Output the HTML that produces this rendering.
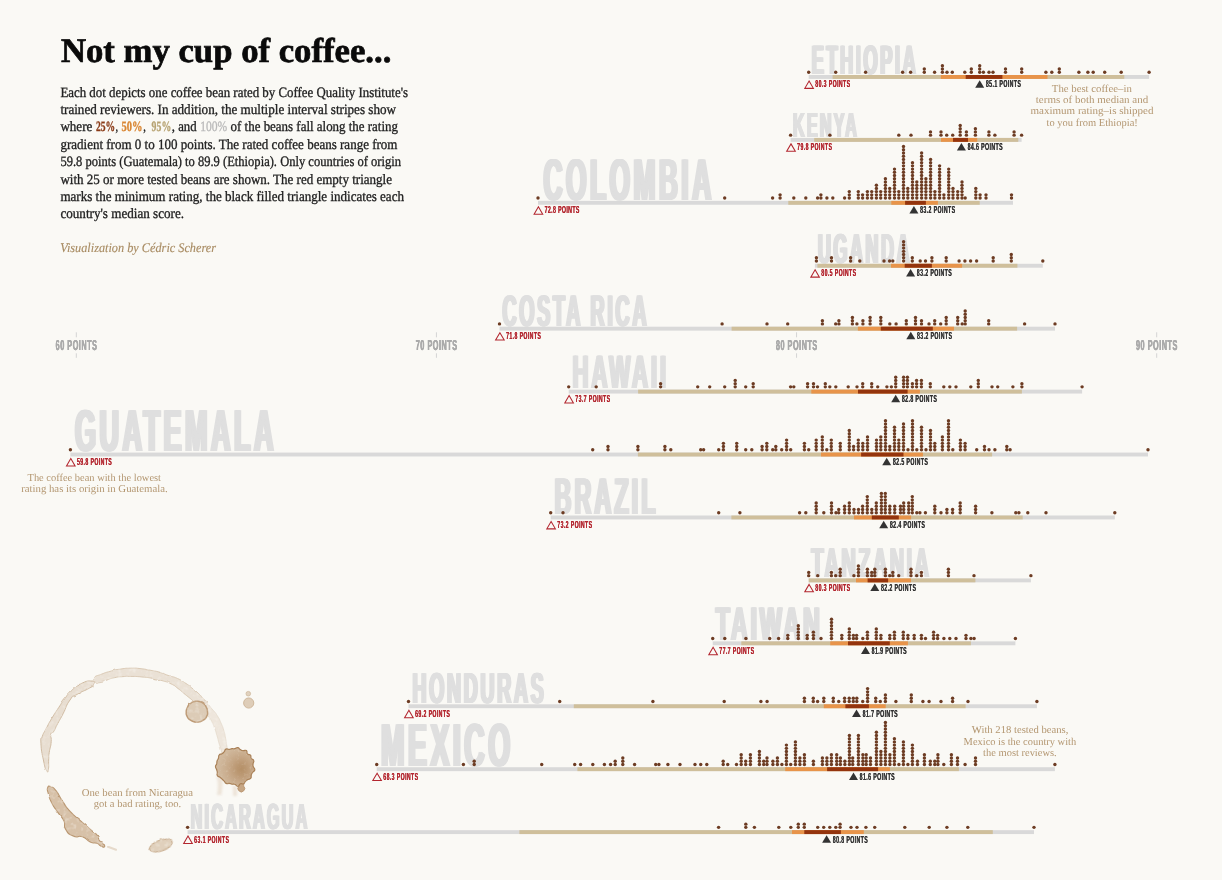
<!DOCTYPE html>
<html lang="en"><head><meta charset="utf-8"><title>Not my cup of coffee...</title>
<style>
html,body{margin:0;padding:0;background:#faf9f5;}
body{width:1222px;height:880px;overflow:hidden;font-family:"Liberation Sans",sans-serif;}
svg{display:block;text-rendering:geometricPrecision;}
.sans{font-family:"Liberation Sans",sans-serif;font-weight:bold;}
.serif{font-family:"Liberation Serif",serif;}
</style></head><body>
<svg width="1222" height="880" viewBox="0 0 1222 880">
<rect x="0" y="0" width="1222" height="880" fill="#faf9f5"/>
<g opacity="0.999">
<defs>
<filter id="blur1" x="-20%" y="-20%" width="140%" height="140%"><feGaussianBlur stdDeviation="0.45"/></filter>
<filter id="blur2" x="-50%" y="-20%" width="200%" height="140%"><feGaussianBlur stdDeviation="1.3"/></filter>
<filter id="blur3" x="-40%" y="-40%" width="180%" height="180%"><feGaussianBlur stdDeviation="3.2"/></filter>
<filter id="rough" x="-20%" y="-20%" width="140%" height="140%"><feTurbulence type="fractalNoise" baseFrequency="0.12" numOctaves="2" seed="7" result="n"/><feDisplacementMap in="SourceGraphic" in2="n" scale="2.4" xChannelSelector="R" yChannelSelector="G" result="d"/><feGaussianBlur in="d" stdDeviation="0.5" result="b"/><feTurbulence type="fractalNoise" baseFrequency="0.22" numOctaves="2" seed="11" result="n2"/><feColorMatrix in="n2" type="matrix" values="0 0 0 0 0  0 0 0 0 0  0 0 0 0 0  1.0 0 0 0 0.5" result="a"/><feComposite in="b" in2="a" operator="in"/></filter>
<filter id="mott" x="-20%" y="-20%" width="140%" height="140%"><feGaussianBlur in="SourceGraphic" stdDeviation="0.5" result="b"/><feTurbulence type="fractalNoise" baseFrequency="0.3" numOctaves="2" seed="4" result="n2"/><feColorMatrix in="n2" type="matrix" values="0 0 0 0 0  0 0 0 0 0  0 0 0 0 0  0.7 0 0 0 0.72" result="a"/><feComposite in="b" in2="a" operator="in"/></filter>
<radialGradient id="blot" cx="66%" cy="55%" r="70%"><stop offset="0" stop-color="#b9966e"/><stop offset="0.4" stop-color="#c5a685"/><stop offset="0.8" stop-color="#d0b89c"/><stop offset="1" stop-color="#d3bca2"/></radialGradient>
</defs>
<g id="stain">
<path d="M46.6 770.5C45 767.8 45.5 770.1 43.6 761C41.7 751.9 41.3 751.4 40.9 743.2C40.5 735 40.5 741.4 42.3 736.4C44.1 731.4 43.2 734.3 46.4 728.2C49.6 722.1 47.9 724.8 52 718C56.1 711.2 54.4 714 58.6 707.7C62.8 701.4 60.4 704.4 64.5 699C68.6 693.6 65.6 696.4 70.9 691.4C76.2 686.4 73.4 687.3 80.5 683.9C87.6 680.5 87.9 680.7 92.1 681.1C96.3 681.5 94.1 682.8 93.2 685.2C92.3 687.6 94.8 685.1 89.3 688.2C83.9 691.3 83.3 690.6 76.9 694.5C70.4 698.4 74.6 693.5 70 700C65.3 706.5 67.1 706.1 63 713.9C59 721.7 61 717.4 57.8 723.4C54.6 729.4 55.8 728.3 53.4 731.9C51 735.4 51.3 730.7 50.6 734C49.8 737.2 51.7 735.4 51.2 741.6C50.8 747.8 50.1 746.5 49.2 752.7C48.4 758.8 49 754.5 48.7 760C48.4 765.5 49.1 765.6 48.4 769.1C47.7 772.6 48.2 773.2 46.6 770.5Z" fill="#e8ded1" stroke="#cfbaa1" stroke-width="1.0" stroke-linejoin="round" opacity="1.0" filter="url(#rough)"/>
<path d="M94.1 677.7C96.5 675.1 96.1 676.3 102 674C107.9 671.7 105.6 672.6 111.9 670.9C118.2 669.2 114.6 669.9 121 669C127.4 668.1 124.3 668.3 131 668.2C137.7 668.1 134.7 668 141 668.7C147.3 669.4 143.7 669 150 670.2C156.3 671.4 154 670.6 160 672.3C166 674 162.2 673.3 168 675.4C173.8 677.5 171.5 675.8 177.5 678.5C183.5 681.2 181.2 680.4 186 683.5C190.8 686.6 187.8 684.7 191.8 687.9C195.8 691.1 194.3 689.5 198 693C201.7 696.5 200.3 695.2 203 698.5C205.7 701.8 207.9 700.8 206.2 703C204.5 705.2 202.8 706.1 198 705C193.2 703.9 196.5 703.7 191.8 699.8C187.1 695.9 188.5 697.2 183.9 693.4C179.3 689.6 182.3 691.7 178 688.5C173.7 685.3 176.4 686.5 171.1 683.9C165.8 681.3 168.1 682.4 162 680.6C155.9 678.8 159.5 679.6 152.8 678.4C146.1 677.2 149.3 677.7 142 677C134.7 676.3 137.3 676.5 131 676.4C124.7 676.3 128.5 676.2 123 676.6C117.5 677 119.9 676.6 114.6 677.7C109.3 678.8 111.6 678.4 107 680C102.4 681.6 105 681.9 100.9 682.5C96.8 683.1 97.1 683.4 94.8 681.8C92.5 680.2 91.7 680.3 94.1 677.7Z" fill="#eae1d5" stroke="#d6c4ae" stroke-width="0.9" stroke-linejoin="round" opacity="1.0" filter="url(#rough)"/>
<path d="M205.5 702.5C206.9 700.8 208.1 704.6 212 709C215.9 713.4 214.3 711 217.3 715.7C220.3 720.4 218.9 718.2 221 723C223.1 727.8 222.2 725 223.7 730C225.2 735 224.5 732.7 225.5 738C226.5 743.3 226.1 741.2 226.8 745.9C227.5 750.6 229.1 749.3 227.5 752C225.9 754.7 224.1 754.4 222 754C219.9 753.6 222.3 754.4 221.3 750.7C220.3 747 220.4 748 218.9 742.8C217.4 737.6 218.4 740.3 216.8 735C215.2 729.7 216 731.8 214.1 726.8C212.2 721.8 213.1 724.2 211 720C208.9 715.8 209.5 719.9 207.7 714.1C205.9 708.3 204.1 704.2 205.5 702.5Z" fill="#eee6dc" stroke="#e1d5c6" stroke-width="0.7" stroke-linejoin="round" opacity="1.0" filter="url(#rough)"/>
<path d="M207.5 711.7C207.7 714.8 208 713.6 206.7 716.4C205.4 719.1 206.1 718.1 203.6 719.9C201.1 721.7 202.2 721.1 199.2 721.8C196.2 722.4 197.6 722.4 194.6 721.8C191.6 721.1 192.7 721.7 190.2 719.9C187.7 718.1 188.4 719.1 187.1 716.4C185.8 713.6 186.1 714.8 186.3 711.7C186.5 708.6 186.3 709.8 187.6 707C189 704.3 188.1 705.3 190.4 703.5C192.7 701.7 191.5 702.3 194.5 701.6C197.5 701 196.3 701 199.3 701.6C202.3 702.3 201.1 701.7 203.4 703.5C205.7 705.3 204.8 704.3 206.2 707C207.5 709.8 207.3 708.6 207.5 711.7Z" fill="#dccbb6" stroke="#be9c78" stroke-width="1.5" stroke-linejoin="round" opacity="1.0" filter="url(#rough)"/>
<circle cx="248.7" cy="703" r="5.1" fill="#decdb8" stroke="#c8ad8e" stroke-width="0.8" filter="url(#blur1)"/>
<circle cx="248.3" cy="693.7" r="2.3" fill="#e1d2bf" stroke="#ccb497" stroke-width="0.7" filter="url(#blur1)"/>
<path d="M216.5 776 Q219 785 217 795 L221.5 795 Q223 785 222.5 777Z" fill="#eadfd2" opacity="0.8" filter="url(#blur2)"/>
<path d="M232.5 786 Q233.5 791 233 796 L237 796 Q237.5 791 237 786Z" fill="#eadfd2" opacity="0.8" filter="url(#blur2)"/>
<path d="M238.2 782 L239 786 A3.4 3.4 0 1 0 243.6 786 L244.4 781Z" fill="#c6a684" stroke="#b48d64" stroke-width="0.7" filter="url(#blur1)"/>
<path d="M253.3 766.6C253.9 768.6 255 767.8 254.8 769.8C254.5 771.7 253.8 770.6 252.6 772.4C251.4 774.1 251.9 773.1 251.3 775C250.7 777 251.9 776.7 250.8 778.2C249.6 779.8 249.6 778.6 247.8 779.6C246.1 780.7 246.9 779.9 245.5 781.3C244.1 782.7 245.2 782.9 243.6 783.8C241.9 784.6 242.3 783 240.4 783.8C238.5 784.7 239.8 786.1 237.9 786.3C236 786.4 236.8 785 234.8 784.3C232.8 783.6 233.8 784.5 232 784.2C230.2 783.8 231.3 783.7 229.3 783.4C227.4 783.2 227.9 784.2 226.2 783.4C224.5 782.7 225.6 782.6 224.2 781.2C222.9 779.7 223.6 780.5 222.2 779.2C220.8 777.9 221.6 778.6 220 777.3C218.4 776.1 218.2 777.2 217.3 775.5C216.4 773.8 217.6 774.3 217.3 772.3C217.1 770.3 217.2 771.4 216.6 769.5C216 767.6 215.5 768.5 215.5 766.6C215.5 764.7 216.1 765.6 216.7 763.7C217.2 761.8 216.5 762.7 217.1 760.9C217.7 759 217.8 760.2 218.4 758.3C219.1 756.4 217.9 756.7 219.1 755.2C220.2 753.6 220.2 754.7 221.9 753.7C223.6 752.6 222.8 753.5 224.1 751.9C225.5 750.4 224.2 750 225.9 749.1C227.6 748.3 227.2 749.6 229.2 749.4C231.2 749.3 230.1 749 232 748.7C233.8 748.5 232.9 749.1 234.8 748.7C236.7 748.3 236 747.4 237.8 747.7C239.6 748 238.6 748.6 240.3 749.6C242 750.6 240.9 750.3 242.9 750.6C245 751 244.9 749.5 246.4 750.6C247.9 751.7 246.1 752.4 247.5 753.9C248.8 755.4 249.2 753.8 250.5 755.2C251.7 756.6 250.1 756.5 251.2 758.2C252.3 760 253.1 758.6 253.7 760.4C254.4 762.3 253.2 761.7 253.1 763.7C252.9 765.8 252.7 764.6 253.3 766.6Z" fill="url(#blot)" stroke="#a98056" stroke-width="1.2" stroke-linejoin="round" filter="url(#mott)"/>
<ellipse cx="241" cy="769" rx="7" ry="10" fill="#a87d52" opacity="0.22" filter="url(#blur3)"/>
<path d="M47.7 787.7C46.8 790 47 788.6 48.3 793.6C49.6 798.6 48.5 796.6 51.6 802.7C54.7 808.8 53.4 805.8 57.5 811.9C61.6 818 61.4 815.4 64 821.1C66.6 826.8 62.3 823.9 65.4 828.9C68.5 833.9 67.5 833.5 73.2 836.1C78.9 838.7 76.7 834.8 82.4 836.8C88.1 838.8 85.4 839.8 90.2 842C95 844.2 93.3 842 96.8 843.3C100.3 844.6 98.1 844.7 100.7 845.9C103.3 847.1 103.9 848 104.6 846.8C105.3 845.6 104.4 844.3 102.7 842.3C101 840.3 101.2 843 99.4 840.7C97.6 838.4 99.6 838.6 97.4 835.5C95.2 832.4 97.8 835.9 92.8 831.5C87.8 827.1 89.8 828.9 82.4 822.4C75 815.9 77.2 818.9 70.6 811.9C64 804.9 67.5 808.4 62.7 801.4C57.9 794.4 60.1 795.8 56.2 790.9C52.3 786 53.7 787.9 50.9 786.8C48.1 785.7 48.6 785.4 47.7 787.7Z" fill="#d7c1a8" stroke="#b99670" stroke-width="1.1" stroke-linejoin="round" opacity="1.0" filter="url(#rough)"/>
<path d="M108 846.8 L116 849.8" stroke="#e6dacb" stroke-width="2" stroke-linecap="round" filter="url(#blur1)"/>
<g transform="translate(160.9,845.6) rotate(-19)"><ellipse cx="0" cy="0" rx="12" ry="5.4" fill="#e0d0bc" stroke="#c4a786" stroke-width="1.0" filter="url(#rough)"/></g>
</g>
<line x1="76.3" x2="76.3" y1="332.3" y2="337.3" stroke="#d4d4d4" stroke-width="1"/>
<line x1="76.3" x2="76.3" y1="353.3" y2="357.8" stroke="#d4d4d4" stroke-width="1"/>
<g class="sans" font-size="14.39" fill="#ababab" letter-spacing="1.061" transform="translate(55.62,350.4) scale(0.5041,1)"><text x="-0.43" y="0">60 POINTS</text><text x="0" y="0">60 POINTS</text><text x="0.43" y="0">60 POINTS</text></g>
<line x1="436.43" x2="436.43" y1="332.3" y2="337.3" stroke="#d4d4d4" stroke-width="1"/>
<line x1="436.43" x2="436.43" y1="353.3" y2="357.8" stroke="#d4d4d4" stroke-width="1"/>
<g class="sans" font-size="14.39" fill="#ababab" letter-spacing="1.061" transform="translate(415.75,350.4) scale(0.5041,1)"><text x="-0.43" y="0">70 POINTS</text><text x="0" y="0">70 POINTS</text><text x="0.43" y="0">70 POINTS</text></g>
<line x1="796.56" x2="796.56" y1="332.3" y2="337.3" stroke="#d4d4d4" stroke-width="1"/>
<line x1="796.56" x2="796.56" y1="353.3" y2="357.8" stroke="#d4d4d4" stroke-width="1"/>
<g class="sans" font-size="14.39" fill="#ababab" letter-spacing="1.061" transform="translate(775.88,350.4) scale(0.5041,1)"><text x="-0.43" y="0">80 POINTS</text><text x="0" y="0">80 POINTS</text><text x="0.43" y="0">80 POINTS</text></g>
<line x1="1156.69" x2="1156.69" y1="332.3" y2="337.3" stroke="#d4d4d4" stroke-width="1"/>
<line x1="1156.69" x2="1156.69" y1="353.3" y2="357.8" stroke="#d4d4d4" stroke-width="1"/>
<g class="sans" font-size="14.39" fill="#ababab" letter-spacing="1.061" transform="translate(1136.01,350.4) scale(0.5041,1)"><text x="-0.43" y="0">90 POINTS</text><text x="0" y="0">90 POINTS</text><text x="0.43" y="0">90 POINTS</text></g>
<g>
<g class="sans" font-size="41.13" fill="#dfdfdf" letter-spacing="5.430" transform="translate(811.65,73.8) scale(0.4482,1)"><text x="-2.34" y="0">ETHIOPIA</text><text x="-1.17" y="0">ETHIOPIA</text><text x="0" y="0">ETHIOPIA</text><text x="1.17" y="0">ETHIOPIA</text><text x="2.34" y="0">ETHIOPIA</text></g>
<rect x="808.7" y="75" width="340.4" height="3.9" fill="#d9d9d9"/>
<rect x="832.6" y="75" width="291.7" height="3.9" fill="#cfbf9b"/>
<rect x="940.8" y="75" width="106.7" height="3.9" fill="#e8944a"/>
<rect x="965.7" y="75" width="36.7" height="3.9" fill="#94340d"/>
<g fill="#6d3c23"><circle cx="808.7" cy="72.2" r="1.7"/><circle cx="835.7" cy="72.2" r="1.7"/><circle cx="865.6" cy="72.2" r="1.7"/><circle cx="902.6" cy="72.2" r="1.7"/><circle cx="910.6" cy="72.2" r="1.7"/><circle cx="924.3" cy="72.2" r="1.7"/><circle cx="924.3" cy="68.98" r="1.7"/><circle cx="934.6" cy="72.2" r="1.7"/><circle cx="942.4" cy="72.2" r="1.7"/><circle cx="942.4" cy="68.98" r="1.7"/><circle cx="942.4" cy="65.76" r="1.7"/><circle cx="947" cy="72.2" r="1.7"/><circle cx="952.3" cy="72.2" r="1.7"/><circle cx="964.8" cy="72.2" r="1.7"/><circle cx="971.3" cy="72.2" r="1.7"/><circle cx="971.3" cy="68.98" r="1.7"/><circle cx="979.7" cy="72.2" r="1.7"/><circle cx="979.7" cy="68.98" r="1.7"/><circle cx="979.7" cy="65.76" r="1.7"/><circle cx="983.4" cy="72.2" r="1.7"/><circle cx="989" cy="72.2" r="1.7"/><circle cx="993" cy="72.2" r="1.7"/><circle cx="1005.5" cy="72.2" r="1.7"/><circle cx="1005.5" cy="68.98" r="1.7"/><circle cx="1021.7" cy="72.2" r="1.7"/><circle cx="1021.7" cy="68.98" r="1.7"/><circle cx="1045.9" cy="72.2" r="1.7"/><circle cx="1051.8" cy="72.2" r="1.7"/><circle cx="1059.3" cy="72.2" r="1.7"/><circle cx="1059.3" cy="68.98" r="1.7"/><circle cx="1078.9" cy="72.2" r="1.7"/><circle cx="1087.9" cy="72.2" r="1.7"/><circle cx="1093.2" cy="72.2" r="1.7"/><circle cx="1104.7" cy="72.2" r="1.7"/><circle cx="1121.2" cy="72.2" r="1.7"/><circle cx="1149.1" cy="72.2" r="1.7"/></g>
<path d="M809.1 80.95 L813.4 88.35 L804.8 88.35 Z" fill="none" stroke="#b3262f" stroke-width="1.05" stroke-linejoin="miter"/>
<g class="sans" font-size="10.17" fill="#b3262f" letter-spacing="0.737" transform="translate(815.28,87.45) scale(0.5132,1)"><text x="-0.16" y="0">80.3 POINTS</text><text x="0.16" y="0">80.3 POINTS</text></g>
<path d="M979.7 80.15 L984.2 87.65 L975.2 87.65 Z" fill="#333333"/>
<g class="sans" font-size="10.17" fill="#333333" letter-spacing="0.732" transform="translate(985.88,87.45) scale(0.5165,1)"><text x="-0.16" y="0">85.1 POINTS</text><text x="0.16" y="0">85.1 POINTS</text></g>
</g>
<g>
<g class="sans" font-size="34.74" fill="#dfdfdf" letter-spacing="4.377" transform="translate(792.98,136.73) scale(0.4696,1)"><text x="-1.88" y="0">KENYA</text><text x="-0.94" y="0">KENYA</text><text x="0" y="0">KENYA</text><text x="0.94" y="0">KENYA</text><text x="1.88" y="0">KENYA</text></g>
<rect x="790.6" y="137.93" width="231" height="3.9" fill="#d9d9d9"/>
<rect x="814.2" y="137.93" width="204.1" height="3.9" fill="#cfbf9b"/>
<rect x="941" y="137.93" width="36.2" height="3.9" fill="#e8944a"/>
<rect x="953" y="137.93" width="15" height="3.9" fill="#94340d"/>
<g fill="#6d3c23"><circle cx="790.6" cy="135.13" r="1.7"/><circle cx="829.9" cy="135.13" r="1.7"/><circle cx="898.8" cy="135.13" r="1.7"/><circle cx="911" cy="135.13" r="1.7"/><circle cx="930.5" cy="135.13" r="1.7"/><circle cx="930.5" cy="131.91" r="1.7"/><circle cx="941" cy="135.13" r="1.7"/><circle cx="941" cy="131.91" r="1.7"/><circle cx="946.7" cy="135.13" r="1.7"/><circle cx="952.7" cy="135.13" r="1.7"/><circle cx="960.2" cy="135.13" r="1.7"/><circle cx="960.2" cy="131.91" r="1.7"/><circle cx="960.2" cy="128.69" r="1.7"/><circle cx="960.2" cy="125.47" r="1.7"/><circle cx="966.4" cy="135.13" r="1.7"/><circle cx="966.4" cy="131.91" r="1.7"/><circle cx="975.4" cy="135.13" r="1.7"/><circle cx="975.4" cy="131.91" r="1.7"/><circle cx="975.4" cy="128.69" r="1.7"/><circle cx="988.9" cy="135.13" r="1.7"/><circle cx="988.9" cy="131.91" r="1.7"/><circle cx="994.9" cy="135.13" r="1.7"/><circle cx="1014.1" cy="135.13" r="1.7"/><circle cx="1014.1" cy="131.91" r="1.7"/><circle cx="1021.6" cy="135.13" r="1.7"/></g>
<path d="M791 143.88 L795.3 151.28 L786.7 151.28 Z" fill="none" stroke="#b3262f" stroke-width="1.05" stroke-linejoin="miter"/>
<g class="sans" font-size="10.17" fill="#b3262f" letter-spacing="0.737" transform="translate(797.18,150.38) scale(0.5132,1)"><text x="-0.16" y="0">79.8 POINTS</text><text x="0.16" y="0">79.8 POINTS</text></g>
<path d="M961.4 143.08 L965.9 150.58 L956.9 150.58 Z" fill="#333333"/>
<g class="sans" font-size="10.17" fill="#333333" letter-spacing="0.732" transform="translate(967.58,150.38) scale(0.5165,1)"><text x="-0.16" y="0">84.6 POINTS</text><text x="0.16" y="0">84.6 POINTS</text></g>
</g>
<g>
<g class="sans" font-size="58.87" fill="#dfdfdf" letter-spacing="7.788" transform="translate(543.5,199.66) scale(0.4472,1)"><text x="-3.35" y="0">COLOMBIA</text><text x="-1.68" y="0">COLOMBIA</text><text x="0" y="0">COLOMBIA</text><text x="1.68" y="0">COLOMBIA</text><text x="3.35" y="0">COLOMBIA</text></g>
<rect x="538" y="200.86" width="475" height="3.9" fill="#d9d9d9"/>
<rect x="788.3" y="200.86" width="191.4" height="3.9" fill="#cfbf9b"/>
<rect x="891.3" y="200.86" width="46.6" height="3.9" fill="#e8944a"/>
<rect x="905.1" y="200.86" width="20.8" height="3.9" fill="#94340d"/>
<g fill="#6d3c23"><circle cx="538" cy="198.06" r="1.7"/><circle cx="724.7" cy="198.06" r="1.7"/><circle cx="772.6" cy="198.06" r="1.7"/><circle cx="780.1" cy="198.06" r="1.7"/><circle cx="780.1" cy="194.84" r="1.7"/><circle cx="793.8" cy="198.06" r="1.7"/><circle cx="805.8" cy="198.06" r="1.7"/><circle cx="817.6" cy="198.06" r="1.7"/><circle cx="820.9" cy="198.06" r="1.7"/><circle cx="820.9" cy="194.84" r="1.7"/><circle cx="826.9" cy="198.06" r="1.7"/><circle cx="832.8" cy="198.06" r="1.7"/><circle cx="844.6" cy="198.06" r="1.7"/><circle cx="849.3" cy="198.06" r="1.7"/><circle cx="849.3" cy="194.84" r="1.7"/><circle cx="849.3" cy="191.62" r="1.7"/><circle cx="858.3" cy="198.06" r="1.7"/><circle cx="858.3" cy="194.84" r="1.7"/><circle cx="858.3" cy="191.62" r="1.7"/><circle cx="862.6" cy="198.06" r="1.7"/><circle cx="862.6" cy="194.84" r="1.7"/><circle cx="867.4" cy="198.06" r="1.7"/><circle cx="867.4" cy="194.84" r="1.7"/><circle cx="867.4" cy="191.62" r="1.7"/><circle cx="871.7" cy="198.06" r="1.7"/><circle cx="871.7" cy="194.84" r="1.7"/><circle cx="871.7" cy="191.62" r="1.7"/><circle cx="876.4" cy="198.06" r="1.7"/><circle cx="876.4" cy="194.84" r="1.7"/><circle cx="876.4" cy="191.62" r="1.7"/><circle cx="876.4" cy="188.4" r="1.7"/><circle cx="876.4" cy="185.18" r="1.7"/><circle cx="880.7" cy="198.06" r="1.7"/><circle cx="880.7" cy="194.84" r="1.7"/><circle cx="880.7" cy="191.62" r="1.7"/><circle cx="885.4" cy="198.06" r="1.7"/><circle cx="885.4" cy="194.84" r="1.7"/><circle cx="885.4" cy="191.62" r="1.7"/><circle cx="885.4" cy="188.4" r="1.7"/><circle cx="885.4" cy="185.18" r="1.7"/><circle cx="885.4" cy="181.96" r="1.7"/><circle cx="885.4" cy="178.74" r="1.7"/><circle cx="889.7" cy="198.06" r="1.7"/><circle cx="889.7" cy="194.84" r="1.7"/><circle cx="889.7" cy="191.62" r="1.7"/><circle cx="889.7" cy="188.4" r="1.7"/><circle cx="894.5" cy="198.06" r="1.7"/><circle cx="894.5" cy="194.84" r="1.7"/><circle cx="894.5" cy="191.62" r="1.7"/><circle cx="894.5" cy="188.4" r="1.7"/><circle cx="894.5" cy="185.18" r="1.7"/><circle cx="894.5" cy="181.96" r="1.7"/><circle cx="894.5" cy="178.74" r="1.7"/><circle cx="894.5" cy="175.52" r="1.7"/><circle cx="894.5" cy="172.3" r="1.7"/><circle cx="894.5" cy="169.08" r="1.7"/><circle cx="898.8" cy="198.06" r="1.7"/><circle cx="898.8" cy="194.84" r="1.7"/><circle cx="898.8" cy="191.62" r="1.7"/><circle cx="903.5" cy="198.06" r="1.7"/><circle cx="903.5" cy="194.84" r="1.7"/><circle cx="903.5" cy="191.62" r="1.7"/><circle cx="903.5" cy="188.4" r="1.7"/><circle cx="903.5" cy="185.18" r="1.7"/><circle cx="903.5" cy="181.96" r="1.7"/><circle cx="903.5" cy="178.74" r="1.7"/><circle cx="903.5" cy="175.52" r="1.7"/><circle cx="903.5" cy="172.3" r="1.7"/><circle cx="903.5" cy="169.08" r="1.7"/><circle cx="903.5" cy="165.86" r="1.7"/><circle cx="903.5" cy="162.64" r="1.7"/><circle cx="903.5" cy="159.42" r="1.7"/><circle cx="903.5" cy="156.2" r="1.7"/><circle cx="903.5" cy="152.98" r="1.7"/><circle cx="903.5" cy="149.76" r="1.7"/><circle cx="903.5" cy="146.54" r="1.7"/><circle cx="907.8" cy="198.06" r="1.7"/><circle cx="907.8" cy="194.84" r="1.7"/><circle cx="907.8" cy="191.62" r="1.7"/><circle cx="907.8" cy="188.4" r="1.7"/><circle cx="912.5" cy="198.06" r="1.7"/><circle cx="912.5" cy="194.84" r="1.7"/><circle cx="912.5" cy="191.62" r="1.7"/><circle cx="912.5" cy="188.4" r="1.7"/><circle cx="912.5" cy="185.18" r="1.7"/><circle cx="912.5" cy="181.96" r="1.7"/><circle cx="912.5" cy="178.74" r="1.7"/><circle cx="912.5" cy="175.52" r="1.7"/><circle cx="912.5" cy="172.3" r="1.7"/><circle cx="912.5" cy="169.08" r="1.7"/><circle cx="912.5" cy="165.86" r="1.7"/><circle cx="912.5" cy="162.64" r="1.7"/><circle cx="916.8" cy="198.06" r="1.7"/><circle cx="916.8" cy="194.84" r="1.7"/><circle cx="916.8" cy="191.62" r="1.7"/><circle cx="916.8" cy="188.4" r="1.7"/><circle cx="916.8" cy="185.18" r="1.7"/><circle cx="916.8" cy="181.96" r="1.7"/><circle cx="921.6" cy="198.06" r="1.7"/><circle cx="921.6" cy="194.84" r="1.7"/><circle cx="921.6" cy="191.62" r="1.7"/><circle cx="921.6" cy="188.4" r="1.7"/><circle cx="921.6" cy="185.18" r="1.7"/><circle cx="921.6" cy="181.96" r="1.7"/><circle cx="921.6" cy="178.74" r="1.7"/><circle cx="921.6" cy="175.52" r="1.7"/><circle cx="921.6" cy="172.3" r="1.7"/><circle cx="921.6" cy="169.08" r="1.7"/><circle cx="921.6" cy="165.86" r="1.7"/><circle cx="921.6" cy="162.64" r="1.7"/><circle cx="921.6" cy="159.42" r="1.7"/><circle cx="921.6" cy="156.2" r="1.7"/><circle cx="921.6" cy="152.98" r="1.7"/><circle cx="925.9" cy="198.06" r="1.7"/><circle cx="925.9" cy="194.84" r="1.7"/><circle cx="925.9" cy="191.62" r="1.7"/><circle cx="925.9" cy="188.4" r="1.7"/><circle cx="925.9" cy="185.18" r="1.7"/><circle cx="925.9" cy="181.96" r="1.7"/><circle cx="925.9" cy="178.74" r="1.7"/><circle cx="930.6" cy="198.06" r="1.7"/><circle cx="930.6" cy="194.84" r="1.7"/><circle cx="930.6" cy="191.62" r="1.7"/><circle cx="930.6" cy="188.4" r="1.7"/><circle cx="930.6" cy="185.18" r="1.7"/><circle cx="930.6" cy="181.96" r="1.7"/><circle cx="930.6" cy="178.74" r="1.7"/><circle cx="930.6" cy="175.52" r="1.7"/><circle cx="930.6" cy="172.3" r="1.7"/><circle cx="930.6" cy="169.08" r="1.7"/><circle cx="930.6" cy="165.86" r="1.7"/><circle cx="930.6" cy="162.64" r="1.7"/><circle cx="930.6" cy="159.42" r="1.7"/><circle cx="934.9" cy="198.06" r="1.7"/><circle cx="934.9" cy="194.84" r="1.7"/><circle cx="934.9" cy="191.62" r="1.7"/><circle cx="939.6" cy="198.06" r="1.7"/><circle cx="939.6" cy="194.84" r="1.7"/><circle cx="939.6" cy="191.62" r="1.7"/><circle cx="939.6" cy="188.4" r="1.7"/><circle cx="939.6" cy="185.18" r="1.7"/><circle cx="939.6" cy="181.96" r="1.7"/><circle cx="939.6" cy="178.74" r="1.7"/><circle cx="939.6" cy="175.52" r="1.7"/><circle cx="939.6" cy="172.3" r="1.7"/><circle cx="939.6" cy="169.08" r="1.7"/><circle cx="939.6" cy="165.86" r="1.7"/><circle cx="943.9" cy="198.06" r="1.7"/><circle cx="943.9" cy="194.84" r="1.7"/><circle cx="948.7" cy="198.06" r="1.7"/><circle cx="948.7" cy="194.84" r="1.7"/><circle cx="948.7" cy="191.62" r="1.7"/><circle cx="948.7" cy="188.4" r="1.7"/><circle cx="948.7" cy="185.18" r="1.7"/><circle cx="948.7" cy="181.96" r="1.7"/><circle cx="948.7" cy="178.74" r="1.7"/><circle cx="948.7" cy="175.52" r="1.7"/><circle cx="948.7" cy="172.3" r="1.7"/><circle cx="948.7" cy="169.08" r="1.7"/><circle cx="953" cy="198.06" r="1.7"/><circle cx="953" cy="194.84" r="1.7"/><circle cx="953" cy="191.62" r="1.7"/><circle cx="953" cy="188.4" r="1.7"/><circle cx="957.7" cy="198.06" r="1.7"/><circle cx="957.7" cy="194.84" r="1.7"/><circle cx="957.7" cy="191.62" r="1.7"/><circle cx="962" cy="198.06" r="1.7"/><circle cx="962" cy="194.84" r="1.7"/><circle cx="962" cy="191.62" r="1.7"/><circle cx="962" cy="188.4" r="1.7"/><circle cx="962" cy="185.18" r="1.7"/><circle cx="962" cy="181.96" r="1.7"/><circle cx="965.2" cy="198.06" r="1.7"/><circle cx="975.8" cy="198.06" r="1.7"/><circle cx="975.8" cy="194.84" r="1.7"/><circle cx="975.8" cy="191.62" r="1.7"/><circle cx="975.8" cy="188.4" r="1.7"/><circle cx="980.1" cy="198.06" r="1.7"/><circle cx="980.1" cy="194.84" r="1.7"/><circle cx="986" cy="198.06" r="1.7"/><circle cx="986" cy="194.84" r="1.7"/><circle cx="1011.5" cy="198.06" r="1.7"/><circle cx="1011.5" cy="194.84" r="1.7"/></g>
<path d="M538.4 206.81 L542.7 214.21 L534.1 214.21 Z" fill="none" stroke="#b3262f" stroke-width="1.05" stroke-linejoin="miter"/>
<g class="sans" font-size="10.17" fill="#b3262f" letter-spacing="0.737" transform="translate(544.58,213.31) scale(0.5132,1)"><text x="-0.16" y="0">72.8 POINTS</text><text x="0.16" y="0">72.8 POINTS</text></g>
<path d="M913.9 206.01 L918.4 213.51 L909.4 213.51 Z" fill="#333333"/>
<g class="sans" font-size="10.17" fill="#333333" letter-spacing="0.732" transform="translate(920.08,213.31) scale(0.5165,1)"><text x="-0.16" y="0">83.2 POINTS</text><text x="0.16" y="0">83.2 POINTS</text></g>
</g>
<g>
<g class="sans" font-size="41.86" fill="#dfdfdf" letter-spacing="5.739" transform="translate(817.87,262.59) scale(0.4315,1)"><text x="-2.47" y="0">UGANDA</text><text x="-1.23" y="0">UGANDA</text><text x="0" y="0">UGANDA</text><text x="1.23" y="0">UGANDA</text><text x="2.47" y="0">UGANDA</text></g>
<rect x="814.9" y="263.79" width="227.9" height="3.9" fill="#d9d9d9"/>
<rect x="817.4" y="263.79" width="200" height="3.9" fill="#cfbf9b"/>
<rect x="891" y="263.79" width="71.1" height="3.9" fill="#e8944a"/>
<rect x="904.7" y="263.79" width="27.2" height="3.9" fill="#94340d"/>
<g fill="#6d3c23"><circle cx="816.4" cy="260.99" r="1.7"/><circle cx="816.4" cy="257.77" r="1.7"/><circle cx="831.5" cy="260.99" r="1.7"/><circle cx="831.5" cy="257.77" r="1.7"/><circle cx="850.6" cy="260.99" r="1.7"/><circle cx="850.6" cy="257.77" r="1.7"/><circle cx="859.8" cy="260.99" r="1.7"/><circle cx="884" cy="260.99" r="1.7"/><circle cx="889.6" cy="260.99" r="1.7"/><circle cx="892.8" cy="260.99" r="1.7"/><circle cx="903.6" cy="260.99" r="1.7"/><circle cx="903.6" cy="257.77" r="1.7"/><circle cx="903.6" cy="254.55" r="1.7"/><circle cx="903.6" cy="251.33" r="1.7"/><circle cx="903.6" cy="248.11" r="1.7"/><circle cx="903.6" cy="244.89" r="1.7"/><circle cx="903.6" cy="241.67" r="1.7"/><circle cx="912.3" cy="260.99" r="1.7"/><circle cx="912.3" cy="257.77" r="1.7"/><circle cx="920.2" cy="260.99" r="1.7"/><circle cx="925.5" cy="260.99" r="1.7"/><circle cx="931.9" cy="260.99" r="1.7"/><circle cx="931.9" cy="257.77" r="1.7"/><circle cx="946.2" cy="260.99" r="1.7"/><circle cx="946.2" cy="257.77" r="1.7"/><circle cx="959.1" cy="260.99" r="1.7"/><circle cx="964.9" cy="260.99" r="1.7"/><circle cx="970.6" cy="260.99" r="1.7"/><circle cx="976.6" cy="260.99" r="1.7"/><circle cx="993.2" cy="260.99" r="1.7"/><circle cx="993.2" cy="257.77" r="1.7"/><circle cx="1011.3" cy="260.99" r="1.7"/><circle cx="1011.3" cy="257.77" r="1.7"/><circle cx="1011.3" cy="254.55" r="1.7"/><circle cx="1042.8" cy="260.99" r="1.7"/></g>
<path d="M815.1 269.74 L819.4 277.14 L810.8 277.14 Z" fill="none" stroke="#b3262f" stroke-width="1.05" stroke-linejoin="miter"/>
<g class="sans" font-size="10.17" fill="#b3262f" letter-spacing="0.737" transform="translate(821.28,276.24) scale(0.5132,1)"><text x="-0.16" y="0">80.5 POINTS</text><text x="0.16" y="0">80.5 POINTS</text></g>
<path d="M910.6 268.94 L915.1 276.44 L906.1 276.44 Z" fill="#333333"/>
<g class="sans" font-size="10.17" fill="#333333" letter-spacing="0.732" transform="translate(916.78,276.24) scale(0.5165,1)"><text x="-0.16" y="0">83.2 POINTS</text><text x="0.16" y="0">83.2 POINTS</text></g>
</g>
<g>
<g class="sans" font-size="44.19" fill="#dfdfdf" letter-spacing="5.848" transform="translate(502.32,325.52) scale(0.4471,1)"><text x="-2.52" y="0">COSTA RICA</text><text x="-1.26" y="0">COSTA RICA</text><text x="0" y="0">COSTA RICA</text><text x="1.26" y="0">COSTA RICA</text><text x="2.52" y="0">COSTA RICA</text></g>
<rect x="499.5" y="326.72" width="555.5" height="3.9" fill="#d9d9d9"/>
<rect x="731.6" y="326.72" width="285.5" height="3.9" fill="#cfbf9b"/>
<rect x="857.9" y="326.72" width="96.1" height="3.9" fill="#e8944a"/>
<rect x="880.8" y="326.72" width="52" height="3.9" fill="#94340d"/>
<g fill="#6d3c23"><circle cx="499.5" cy="323.92" r="1.7"/><circle cx="722.1" cy="323.92" r="1.7"/><circle cx="767" cy="323.92" r="1.7"/><circle cx="787.7" cy="323.92" r="1.7"/><circle cx="822.4" cy="323.92" r="1.7"/><circle cx="822.4" cy="320.7" r="1.7"/><circle cx="835.7" cy="323.92" r="1.7"/><circle cx="838.9" cy="323.92" r="1.7"/><circle cx="838.9" cy="320.7" r="1.7"/><circle cx="852.4" cy="323.92" r="1.7"/><circle cx="852.4" cy="320.7" r="1.7"/><circle cx="852.4" cy="317.48" r="1.7"/><circle cx="856.9" cy="323.92" r="1.7"/><circle cx="862.9" cy="323.92" r="1.7"/><circle cx="862.9" cy="320.7" r="1.7"/><circle cx="870.1" cy="323.92" r="1.7"/><circle cx="870.1" cy="320.7" r="1.7"/><circle cx="870.1" cy="317.48" r="1.7"/><circle cx="880.8" cy="323.92" r="1.7"/><circle cx="880.8" cy="320.7" r="1.7"/><circle cx="880.8" cy="317.48" r="1.7"/><circle cx="889.8" cy="323.92" r="1.7"/><circle cx="896.1" cy="323.92" r="1.7"/><circle cx="906.3" cy="323.92" r="1.7"/><circle cx="906.3" cy="320.7" r="1.7"/><circle cx="915.5" cy="323.92" r="1.7"/><circle cx="915.5" cy="320.7" r="1.7"/><circle cx="915.5" cy="317.48" r="1.7"/><circle cx="921.5" cy="323.92" r="1.7"/><circle cx="921.5" cy="320.7" r="1.7"/><circle cx="929" cy="323.92" r="1.7"/><circle cx="934.7" cy="323.92" r="1.7"/><circle cx="934.7" cy="320.7" r="1.7"/><circle cx="940.7" cy="323.92" r="1.7"/><circle cx="946.2" cy="323.92" r="1.7"/><circle cx="946.2" cy="320.7" r="1.7"/><circle cx="946.2" cy="317.48" r="1.7"/><circle cx="957.7" cy="323.92" r="1.7"/><circle cx="957.7" cy="320.7" r="1.7"/><circle cx="957.7" cy="317.48" r="1.7"/><circle cx="962.2" cy="323.92" r="1.7"/><circle cx="965.2" cy="323.92" r="1.7"/><circle cx="965.2" cy="320.7" r="1.7"/><circle cx="965.2" cy="317.48" r="1.7"/><circle cx="965.2" cy="314.26" r="1.7"/><circle cx="965.2" cy="311.04" r="1.7"/><circle cx="988.7" cy="323.92" r="1.7"/><circle cx="988.7" cy="320.7" r="1.7"/><circle cx="1024.6" cy="323.92" r="1.7"/><circle cx="1055" cy="323.92" r="1.7"/></g>
<path d="M499.9 332.67 L504.2 340.07 L495.6 340.07 Z" fill="none" stroke="#b3262f" stroke-width="1.05" stroke-linejoin="miter"/>
<g class="sans" font-size="10.17" fill="#b3262f" letter-spacing="0.737" transform="translate(506.08,339.17) scale(0.5132,1)"><text x="-0.16" y="0">71.8 POINTS</text><text x="0.16" y="0">71.8 POINTS</text></g>
<path d="M910.8 331.87 L915.3 339.37 L906.3 339.37 Z" fill="#333333"/>
<g class="sans" font-size="10.17" fill="#333333" letter-spacing="0.732" transform="translate(916.98,339.17) scale(0.5165,1)"><text x="-0.16" y="0">83.2 POINTS</text><text x="0.16" y="0">83.2 POINTS</text></g>
</g>
<g>
<g class="sans" font-size="46.8" fill="#dfdfdf" letter-spacing="5.770" transform="translate(572.39,388.45) scale(0.4799,1)"><text x="-2.48" y="0">HAWAII</text><text x="-1.24" y="0">HAWAII</text><text x="0" y="0">HAWAII</text><text x="1.24" y="0">HAWAII</text><text x="2.48" y="0">HAWAII</text></g>
<rect x="568.7" y="389.65" width="513.4" height="3.9" fill="#d9d9d9"/>
<rect x="638.1" y="389.65" width="383.8" height="3.9" fill="#cfbf9b"/>
<rect x="811.3" y="389.65" width="108.6" height="3.9" fill="#e8944a"/>
<rect x="858" y="389.65" width="49.6" height="3.9" fill="#94340d"/>
<g fill="#6d3c23"><circle cx="568.7" cy="386.85" r="1.7"/><circle cx="596.2" cy="386.85" r="1.7"/><circle cx="660.6" cy="386.85" r="1.7"/><circle cx="660.6" cy="383.63" r="1.7"/><circle cx="697.7" cy="386.85" r="1.7"/><circle cx="709.7" cy="386.85" r="1.7"/><circle cx="724.7" cy="386.85" r="1.7"/><circle cx="735.2" cy="386.85" r="1.7"/><circle cx="735.2" cy="383.63" r="1.7"/><circle cx="735.2" cy="380.41" r="1.7"/><circle cx="745.7" cy="386.85" r="1.7"/><circle cx="753.2" cy="386.85" r="1.7"/><circle cx="753.2" cy="383.63" r="1.7"/><circle cx="790.6" cy="386.85" r="1.7"/><circle cx="793.8" cy="386.85" r="1.7"/><circle cx="807.6" cy="386.85" r="1.7"/><circle cx="807.6" cy="383.63" r="1.7"/><circle cx="813.5" cy="386.85" r="1.7"/><circle cx="813.5" cy="383.63" r="1.7"/><circle cx="817.5" cy="386.85" r="1.7"/><circle cx="825.3" cy="386.85" r="1.7"/><circle cx="825.3" cy="383.63" r="1.7"/><circle cx="829.8" cy="386.85" r="1.7"/><circle cx="835.8" cy="386.85" r="1.7"/><circle cx="848.2" cy="386.85" r="1.7"/><circle cx="857" cy="386.85" r="1.7"/><circle cx="862.7" cy="386.85" r="1.7"/><circle cx="862.7" cy="383.63" r="1.7"/><circle cx="871.7" cy="386.85" r="1.7"/><circle cx="871.7" cy="383.63" r="1.7"/><circle cx="877.7" cy="386.85" r="1.7"/><circle cx="886.9" cy="386.85" r="1.7"/><circle cx="891.4" cy="386.85" r="1.7"/><circle cx="895.7" cy="386.85" r="1.7"/><circle cx="895.7" cy="383.63" r="1.7"/><circle cx="895.7" cy="380.41" r="1.7"/><circle cx="895.7" cy="377.19" r="1.7"/><circle cx="903.6" cy="386.85" r="1.7"/><circle cx="903.6" cy="383.63" r="1.7"/><circle cx="903.6" cy="380.41" r="1.7"/><circle cx="903.6" cy="377.19" r="1.7"/><circle cx="907.4" cy="386.85" r="1.7"/><circle cx="907.4" cy="383.63" r="1.7"/><circle cx="907.4" cy="380.41" r="1.7"/><circle cx="907.4" cy="377.19" r="1.7"/><circle cx="912.4" cy="386.85" r="1.7"/><circle cx="912.4" cy="383.63" r="1.7"/><circle cx="916.6" cy="386.85" r="1.7"/><circle cx="916.6" cy="383.63" r="1.7"/><circle cx="916.6" cy="380.41" r="1.7"/><circle cx="921.4" cy="386.85" r="1.7"/><circle cx="921.4" cy="383.63" r="1.7"/><circle cx="921.4" cy="380.41" r="1.7"/><circle cx="930.3" cy="386.85" r="1.7"/><circle cx="930.3" cy="383.63" r="1.7"/><circle cx="943.8" cy="386.85" r="1.7"/><circle cx="949.8" cy="386.85" r="1.7"/><circle cx="956" cy="386.85" r="1.7"/><circle cx="970.8" cy="386.85" r="1.7"/><circle cx="978.3" cy="386.85" r="1.7"/><circle cx="978.3" cy="383.63" r="1.7"/><circle cx="978.3" cy="380.41" r="1.7"/><circle cx="992" cy="386.85" r="1.7"/><circle cx="997.7" cy="386.85" r="1.7"/><circle cx="1012.9" cy="386.85" r="1.7"/><circle cx="1021.9" cy="386.85" r="1.7"/><circle cx="1021.9" cy="383.63" r="1.7"/><circle cx="1082.1" cy="386.85" r="1.7"/></g>
<path d="M569.1 395.6 L573.4 403 L564.8 403 Z" fill="none" stroke="#b3262f" stroke-width="1.05" stroke-linejoin="miter"/>
<g class="sans" font-size="10.17" fill="#b3262f" letter-spacing="0.737" transform="translate(575.28,402.1) scale(0.5132,1)"><text x="-0.16" y="0">73.7 POINTS</text><text x="0.16" y="0">73.7 POINTS</text></g>
<path d="M895.7 394.8 L900.2 402.3 L891.2 402.3 Z" fill="#333333"/>
<g class="sans" font-size="10.17" fill="#333333" letter-spacing="0.732" transform="translate(901.88,402.1) scale(0.5165,1)"><text x="-0.16" y="0">82.8 POINTS</text><text x="0.16" y="0">82.8 POINTS</text></g>
</g>
<g>
<g class="sans" font-size="59.16" fill="#dfdfdf" letter-spacing="7.673" transform="translate(75.11,451.38) scale(0.4562,1)"><text x="-3.3" y="0">GUATEMALA</text><text x="-1.65" y="0">GUATEMALA</text><text x="0" y="0">GUATEMALA</text><text x="1.65" y="0">GUATEMALA</text><text x="3.3" y="0">GUATEMALA</text></g>
<rect x="70.4" y="452.58" width="1077.6" height="3.9" fill="#d9d9d9"/>
<rect x="637.9" y="452.58" width="354.2" height="3.9" fill="#cfbf9b"/>
<rect x="821" y="452.58" width="101.9" height="3.9" fill="#e8944a"/>
<rect x="861.1" y="452.58" width="42.4" height="3.9" fill="#94340d"/>
<g fill="#6d3c23"><circle cx="70.4" cy="449.78" r="1.7"/><circle cx="592.7" cy="449.78" r="1.7"/><circle cx="608" cy="449.78" r="1.7"/><circle cx="608" cy="446.56" r="1.7"/><circle cx="637.9" cy="449.78" r="1.7"/><circle cx="637.9" cy="446.56" r="1.7"/><circle cx="664.9" cy="449.78" r="1.7"/><circle cx="664.9" cy="446.56" r="1.7"/><circle cx="670.8" cy="449.78" r="1.7"/><circle cx="700.7" cy="449.78" r="1.7"/><circle cx="703.6" cy="449.78" r="1.7"/><circle cx="718.7" cy="449.78" r="1.7"/><circle cx="723.4" cy="449.78" r="1.7"/><circle cx="723.4" cy="446.56" r="1.7"/><circle cx="723.4" cy="443.34" r="1.7"/><circle cx="736.7" cy="449.78" r="1.7"/><circle cx="736.7" cy="446.56" r="1.7"/><circle cx="736.7" cy="443.34" r="1.7"/><circle cx="745.7" cy="449.78" r="1.7"/><circle cx="751.8" cy="449.78" r="1.7"/><circle cx="762.1" cy="449.78" r="1.7"/><circle cx="762.1" cy="446.56" r="1.7"/><circle cx="766.8" cy="449.78" r="1.7"/><circle cx="766.8" cy="446.56" r="1.7"/><circle cx="766.8" cy="443.34" r="1.7"/><circle cx="772.7" cy="449.78" r="1.7"/><circle cx="775.8" cy="449.78" r="1.7"/><circle cx="775.8" cy="446.56" r="1.7"/><circle cx="781.7" cy="449.78" r="1.7"/><circle cx="786.6" cy="449.78" r="1.7"/><circle cx="786.6" cy="446.56" r="1.7"/><circle cx="786.6" cy="443.34" r="1.7"/><circle cx="786.6" cy="440.12" r="1.7"/><circle cx="790.7" cy="449.78" r="1.7"/><circle cx="804.4" cy="449.78" r="1.7"/><circle cx="804.4" cy="446.56" r="1.7"/><circle cx="804.4" cy="443.34" r="1.7"/><circle cx="808.7" cy="449.78" r="1.7"/><circle cx="816.2" cy="449.78" r="1.7"/><circle cx="816.2" cy="446.56" r="1.7"/><circle cx="816.2" cy="443.34" r="1.7"/><circle cx="816.2" cy="440.12" r="1.7"/><circle cx="822.3" cy="449.78" r="1.7"/><circle cx="822.3" cy="446.56" r="1.7"/><circle cx="822.3" cy="443.34" r="1.7"/><circle cx="822.3" cy="440.12" r="1.7"/><circle cx="822.3" cy="436.9" r="1.7"/><circle cx="826.8" cy="449.78" r="1.7"/><circle cx="831.3" cy="449.78" r="1.7"/><circle cx="831.3" cy="446.56" r="1.7"/><circle cx="831.3" cy="443.34" r="1.7"/><circle cx="831.3" cy="440.12" r="1.7"/><circle cx="840.3" cy="449.78" r="1.7"/><circle cx="840.3" cy="446.56" r="1.7"/><circle cx="840.3" cy="443.34" r="1.7"/><circle cx="849.3" cy="449.78" r="1.7"/><circle cx="849.3" cy="446.56" r="1.7"/><circle cx="849.3" cy="443.34" r="1.7"/><circle cx="849.3" cy="440.12" r="1.7"/><circle cx="849.3" cy="436.9" r="1.7"/><circle cx="849.3" cy="433.68" r="1.7"/><circle cx="849.3" cy="430.46" r="1.7"/><circle cx="853.6" cy="449.78" r="1.7"/><circle cx="853.6" cy="446.56" r="1.7"/><circle cx="858.3" cy="449.78" r="1.7"/><circle cx="858.3" cy="446.56" r="1.7"/><circle cx="858.3" cy="443.34" r="1.7"/><circle cx="858.3" cy="440.12" r="1.7"/><circle cx="862.8" cy="449.78" r="1.7"/><circle cx="862.8" cy="446.56" r="1.7"/><circle cx="862.8" cy="443.34" r="1.7"/><circle cx="867.5" cy="449.78" r="1.7"/><circle cx="867.5" cy="446.56" r="1.7"/><circle cx="867.5" cy="443.34" r="1.7"/><circle cx="867.5" cy="440.12" r="1.7"/><circle cx="867.5" cy="436.9" r="1.7"/><circle cx="876.5" cy="449.78" r="1.7"/><circle cx="876.5" cy="446.56" r="1.7"/><circle cx="876.5" cy="443.34" r="1.7"/><circle cx="876.5" cy="440.12" r="1.7"/><circle cx="880.8" cy="449.78" r="1.7"/><circle cx="880.8" cy="446.56" r="1.7"/><circle cx="880.8" cy="443.34" r="1.7"/><circle cx="880.8" cy="440.12" r="1.7"/><circle cx="880.8" cy="436.9" r="1.7"/><circle cx="885.5" cy="449.78" r="1.7"/><circle cx="885.5" cy="446.56" r="1.7"/><circle cx="885.5" cy="443.34" r="1.7"/><circle cx="885.5" cy="440.12" r="1.7"/><circle cx="885.5" cy="436.9" r="1.7"/><circle cx="885.5" cy="433.68" r="1.7"/><circle cx="885.5" cy="430.46" r="1.7"/><circle cx="885.5" cy="427.24" r="1.7"/><circle cx="885.5" cy="424.02" r="1.7"/><circle cx="885.5" cy="420.8" r="1.7"/><circle cx="889.8" cy="449.78" r="1.7"/><circle cx="889.8" cy="446.56" r="1.7"/><circle cx="894.5" cy="449.78" r="1.7"/><circle cx="894.5" cy="446.56" r="1.7"/><circle cx="894.5" cy="443.34" r="1.7"/><circle cx="894.5" cy="440.12" r="1.7"/><circle cx="894.5" cy="436.9" r="1.7"/><circle cx="894.5" cy="433.68" r="1.7"/><circle cx="894.5" cy="430.46" r="1.7"/><circle cx="894.5" cy="427.24" r="1.7"/><circle cx="898.8" cy="449.78" r="1.7"/><circle cx="898.8" cy="446.56" r="1.7"/><circle cx="898.8" cy="443.34" r="1.7"/><circle cx="898.8" cy="440.12" r="1.7"/><circle cx="903.5" cy="449.78" r="1.7"/><circle cx="903.5" cy="446.56" r="1.7"/><circle cx="903.5" cy="443.34" r="1.7"/><circle cx="903.5" cy="440.12" r="1.7"/><circle cx="903.5" cy="436.9" r="1.7"/><circle cx="903.5" cy="433.68" r="1.7"/><circle cx="903.5" cy="430.46" r="1.7"/><circle cx="903.5" cy="427.24" r="1.7"/><circle cx="903.5" cy="424.02" r="1.7"/><circle cx="908" cy="449.78" r="1.7"/><circle cx="912.5" cy="449.78" r="1.7"/><circle cx="912.5" cy="446.56" r="1.7"/><circle cx="912.5" cy="443.34" r="1.7"/><circle cx="912.5" cy="440.12" r="1.7"/><circle cx="912.5" cy="436.9" r="1.7"/><circle cx="912.5" cy="433.68" r="1.7"/><circle cx="912.5" cy="430.46" r="1.7"/><circle cx="912.5" cy="427.24" r="1.7"/><circle cx="912.5" cy="424.02" r="1.7"/><circle cx="912.5" cy="420.8" r="1.7"/><circle cx="916.8" cy="449.78" r="1.7"/><circle cx="921.5" cy="449.78" r="1.7"/><circle cx="921.5" cy="446.56" r="1.7"/><circle cx="921.5" cy="443.34" r="1.7"/><circle cx="921.5" cy="440.12" r="1.7"/><circle cx="921.5" cy="436.9" r="1.7"/><circle cx="921.5" cy="433.68" r="1.7"/><circle cx="921.5" cy="430.46" r="1.7"/><circle cx="921.5" cy="427.24" r="1.7"/><circle cx="926" cy="449.78" r="1.7"/><circle cx="930.5" cy="449.78" r="1.7"/><circle cx="930.5" cy="446.56" r="1.7"/><circle cx="930.5" cy="443.34" r="1.7"/><circle cx="930.5" cy="440.12" r="1.7"/><circle cx="930.5" cy="436.9" r="1.7"/><circle cx="930.5" cy="433.68" r="1.7"/><circle cx="930.5" cy="430.46" r="1.7"/><circle cx="934.8" cy="449.78" r="1.7"/><circle cx="934.8" cy="446.56" r="1.7"/><circle cx="934.8" cy="443.34" r="1.7"/><circle cx="942.4" cy="449.78" r="1.7"/><circle cx="942.4" cy="446.56" r="1.7"/><circle cx="942.4" cy="443.34" r="1.7"/><circle cx="942.4" cy="440.12" r="1.7"/><circle cx="942.4" cy="436.9" r="1.7"/><circle cx="948.5" cy="449.78" r="1.7"/><circle cx="948.5" cy="446.56" r="1.7"/><circle cx="948.5" cy="443.34" r="1.7"/><circle cx="948.5" cy="440.12" r="1.7"/><circle cx="948.5" cy="436.9" r="1.7"/><circle cx="948.5" cy="433.68" r="1.7"/><circle cx="948.5" cy="430.46" r="1.7"/><circle cx="948.5" cy="427.24" r="1.7"/><circle cx="948.5" cy="424.02" r="1.7"/><circle cx="948.5" cy="420.8" r="1.7"/><circle cx="952.8" cy="449.78" r="1.7"/><circle cx="960.4" cy="449.78" r="1.7"/><circle cx="960.4" cy="446.56" r="1.7"/><circle cx="960.4" cy="443.34" r="1.7"/><circle cx="960.4" cy="440.12" r="1.7"/><circle cx="965.1" cy="449.78" r="1.7"/><circle cx="965.1" cy="446.56" r="1.7"/><circle cx="965.1" cy="443.34" r="1.7"/><circle cx="976.7" cy="449.78" r="1.7"/><circle cx="984.5" cy="449.78" r="1.7"/><circle cx="984.5" cy="446.56" r="1.7"/><circle cx="989" cy="449.78" r="1.7"/><circle cx="994.9" cy="449.78" r="1.7"/><circle cx="1006.8" cy="449.78" r="1.7"/><circle cx="1006.8" cy="446.56" r="1.7"/><circle cx="1010.1" cy="449.78" r="1.7"/><circle cx="1148" cy="449.78" r="1.7"/></g>
<path d="M70.8 458.53 L75.1 465.93 L66.5 465.93 Z" fill="none" stroke="#b3262f" stroke-width="1.05" stroke-linejoin="miter"/>
<g class="sans" font-size="10.17" fill="#b3262f" letter-spacing="0.737" transform="translate(76.98,465.03) scale(0.5132,1)"><text x="-0.16" y="0">59.8 POINTS</text><text x="0.16" y="0">59.8 POINTS</text></g>
<path d="M886.7 457.73 L891.2 465.23 L882.2 465.23 Z" fill="#333333"/>
<g class="sans" font-size="10.17" fill="#333333" letter-spacing="0.732" transform="translate(892.88,465.03) scale(0.5165,1)"><text x="-0.16" y="0">82.5 POINTS</text><text x="0.16" y="0">82.5 POINTS</text></g>
</g>
<g>
<g class="sans" font-size="51.6" fill="#dfdfdf" letter-spacing="6.738" transform="translate(554.51,514.31) scale(0.4531,1)"><text x="-2.9" y="0">BRAZIL</text><text x="-1.45" y="0">BRAZIL</text><text x="0" y="0">BRAZIL</text><text x="1.45" y="0">BRAZIL</text><text x="2.9" y="0">BRAZIL</text></g>
<rect x="550.7" y="515.51" width="564.1" height="3.9" fill="#d9d9d9"/>
<rect x="731.4" y="515.51" width="291.3" height="3.9" fill="#cfbf9b"/>
<rect x="854" y="515.51" width="57.1" height="3.9" fill="#e8944a"/>
<rect x="871.8" y="515.51" width="27" height="3.9" fill="#94340d"/>
<g fill="#6d3c23"><circle cx="550.7" cy="512.71" r="1.7"/><circle cx="563" cy="512.71" r="1.7"/><circle cx="718.7" cy="512.71" r="1.7"/><circle cx="739.9" cy="512.71" r="1.7"/><circle cx="799.6" cy="512.71" r="1.7"/><circle cx="805.8" cy="512.71" r="1.7"/><circle cx="816.2" cy="512.71" r="1.7"/><circle cx="816.2" cy="509.49" r="1.7"/><circle cx="816.2" cy="506.27" r="1.7"/><circle cx="816.2" cy="503.05" r="1.7"/><circle cx="823.8" cy="512.71" r="1.7"/><circle cx="831.5" cy="512.71" r="1.7"/><circle cx="831.5" cy="509.49" r="1.7"/><circle cx="831.5" cy="506.27" r="1.7"/><circle cx="831.5" cy="503.05" r="1.7"/><circle cx="836" cy="512.71" r="1.7"/><circle cx="838.7" cy="512.71" r="1.7"/><circle cx="838.7" cy="509.49" r="1.7"/><circle cx="844.6" cy="512.71" r="1.7"/><circle cx="844.6" cy="509.49" r="1.7"/><circle cx="844.6" cy="506.27" r="1.7"/><circle cx="849.3" cy="512.71" r="1.7"/><circle cx="849.3" cy="509.49" r="1.7"/><circle cx="849.3" cy="506.27" r="1.7"/><circle cx="849.3" cy="503.05" r="1.7"/><circle cx="854" cy="512.71" r="1.7"/><circle cx="854" cy="509.49" r="1.7"/><circle cx="858.5" cy="512.71" r="1.7"/><circle cx="858.5" cy="509.49" r="1.7"/><circle cx="862.6" cy="512.71" r="1.7"/><circle cx="862.6" cy="509.49" r="1.7"/><circle cx="862.6" cy="506.27" r="1.7"/><circle cx="867.3" cy="512.71" r="1.7"/><circle cx="867.3" cy="509.49" r="1.7"/><circle cx="867.3" cy="506.27" r="1.7"/><circle cx="867.3" cy="503.05" r="1.7"/><circle cx="867.3" cy="499.83" r="1.7"/><circle cx="867.3" cy="496.61" r="1.7"/><circle cx="871.8" cy="512.71" r="1.7"/><circle cx="871.8" cy="509.49" r="1.7"/><circle cx="876.3" cy="512.71" r="1.7"/><circle cx="876.3" cy="509.49" r="1.7"/><circle cx="876.3" cy="506.27" r="1.7"/><circle cx="876.3" cy="503.05" r="1.7"/><circle cx="881.4" cy="512.71" r="1.7"/><circle cx="881.4" cy="509.49" r="1.7"/><circle cx="881.4" cy="506.27" r="1.7"/><circle cx="881.4" cy="503.05" r="1.7"/><circle cx="881.4" cy="499.83" r="1.7"/><circle cx="881.4" cy="496.61" r="1.7"/><circle cx="881.4" cy="493.39" r="1.7"/><circle cx="885.3" cy="512.71" r="1.7"/><circle cx="885.3" cy="509.49" r="1.7"/><circle cx="885.3" cy="506.27" r="1.7"/><circle cx="885.3" cy="503.05" r="1.7"/><circle cx="885.3" cy="499.83" r="1.7"/><circle cx="885.3" cy="496.61" r="1.7"/><circle cx="885.3" cy="493.39" r="1.7"/><circle cx="889.8" cy="512.71" r="1.7"/><circle cx="889.8" cy="509.49" r="1.7"/><circle cx="889.8" cy="506.27" r="1.7"/><circle cx="894.7" cy="512.71" r="1.7"/><circle cx="894.7" cy="509.49" r="1.7"/><circle cx="894.7" cy="506.27" r="1.7"/><circle cx="900.5" cy="512.71" r="1.7"/><circle cx="900.5" cy="509.49" r="1.7"/><circle cx="900.5" cy="506.27" r="1.7"/><circle cx="903.7" cy="512.71" r="1.7"/><circle cx="903.7" cy="509.49" r="1.7"/><circle cx="903.7" cy="506.27" r="1.7"/><circle cx="903.7" cy="503.05" r="1.7"/><circle cx="908.7" cy="512.71" r="1.7"/><circle cx="908.7" cy="509.49" r="1.7"/><circle cx="908.7" cy="506.27" r="1.7"/><circle cx="908.7" cy="503.05" r="1.7"/><circle cx="912.3" cy="512.71" r="1.7"/><circle cx="912.3" cy="509.49" r="1.7"/><circle cx="912.3" cy="506.27" r="1.7"/><circle cx="912.3" cy="503.05" r="1.7"/><circle cx="912.3" cy="499.83" r="1.7"/><circle cx="912.3" cy="496.61" r="1.7"/><circle cx="916.8" cy="512.71" r="1.7"/><circle cx="919.9" cy="512.71" r="1.7"/><circle cx="925.4" cy="512.71" r="1.7"/><circle cx="934.8" cy="512.71" r="1.7"/><circle cx="934.8" cy="509.49" r="1.7"/><circle cx="934.8" cy="506.27" r="1.7"/><circle cx="941" cy="512.71" r="1.7"/><circle cx="946.9" cy="512.71" r="1.7"/><circle cx="946.9" cy="509.49" r="1.7"/><circle cx="952.6" cy="512.71" r="1.7"/><circle cx="952.6" cy="509.49" r="1.7"/><circle cx="960.2" cy="512.71" r="1.7"/><circle cx="960.2" cy="509.49" r="1.7"/><circle cx="960.2" cy="506.27" r="1.7"/><circle cx="960.2" cy="503.05" r="1.7"/><circle cx="975.6" cy="512.71" r="1.7"/><circle cx="975.6" cy="509.49" r="1.7"/><circle cx="975.6" cy="506.27" r="1.7"/><circle cx="991.9" cy="512.71" r="1.7"/><circle cx="1015.8" cy="512.71" r="1.7"/><circle cx="1018.9" cy="512.71" r="1.7"/><circle cx="1027.8" cy="512.71" r="1.7"/><circle cx="1046" cy="512.71" r="1.7"/><circle cx="1114.8" cy="512.71" r="1.7"/></g>
<path d="M551.1 521.46 L555.4 528.86 L546.8 528.86 Z" fill="none" stroke="#b3262f" stroke-width="1.05" stroke-linejoin="miter"/>
<g class="sans" font-size="10.17" fill="#b3262f" letter-spacing="0.737" transform="translate(557.28,527.96) scale(0.5132,1)"><text x="-0.16" y="0">73.2 POINTS</text><text x="0.16" y="0">73.2 POINTS</text></g>
<path d="M883.7 520.66 L888.2 528.16 L879.2 528.16 Z" fill="#333333"/>
<g class="sans" font-size="10.17" fill="#333333" letter-spacing="0.732" transform="translate(889.88,527.96) scale(0.5165,1)"><text x="-0.16" y="0">82.4 POINTS</text><text x="0.16" y="0">82.4 POINTS</text></g>
</g>
<g>
<g class="sans" font-size="41.72" fill="#dfdfdf" letter-spacing="5.170" transform="translate(811.36,577.24) scale(0.4774,1)"><text x="-2.22" y="0">TANZANIA</text><text x="-1.11" y="0">TANZANIA</text><text x="0" y="0">TANZANIA</text><text x="1.11" y="0">TANZANIA</text><text x="2.22" y="0">TANZANIA</text></g>
<rect x="808.7" y="578.44" width="222.2" height="3.9" fill="#d9d9d9"/>
<rect x="808.7" y="578.44" width="166.7" height="3.9" fill="#cfbf9b"/>
<rect x="856" y="578.44" width="55" height="3.9" fill="#e8944a"/>
<rect x="867.6" y="578.44" width="20.5" height="3.9" fill="#94340d"/>
<g fill="#6d3c23"><circle cx="808.7" cy="575.64" r="1.7"/><circle cx="808.7" cy="572.42" r="1.7"/><circle cx="817.7" cy="575.64" r="1.7"/><circle cx="831.4" cy="575.64" r="1.7"/><circle cx="831.4" cy="572.42" r="1.7"/><circle cx="835.7" cy="575.64" r="1.7"/><circle cx="840.2" cy="575.64" r="1.7"/><circle cx="840.2" cy="572.42" r="1.7"/><circle cx="840.2" cy="569.2" r="1.7"/><circle cx="853.9" cy="575.64" r="1.7"/><circle cx="858.4" cy="575.64" r="1.7"/><circle cx="858.4" cy="572.42" r="1.7"/><circle cx="858.4" cy="569.2" r="1.7"/><circle cx="858.4" cy="565.98" r="1.7"/><circle cx="867.4" cy="575.64" r="1.7"/><circle cx="867.4" cy="572.42" r="1.7"/><circle cx="867.4" cy="569.2" r="1.7"/><circle cx="871.7" cy="575.64" r="1.7"/><circle cx="871.7" cy="572.42" r="1.7"/><circle cx="874.8" cy="575.64" r="1.7"/><circle cx="874.8" cy="572.42" r="1.7"/><circle cx="874.8" cy="569.2" r="1.7"/><circle cx="885.4" cy="575.64" r="1.7"/><circle cx="885.4" cy="572.42" r="1.7"/><circle cx="885.4" cy="569.2" r="1.7"/><circle cx="889.7" cy="575.64" r="1.7"/><circle cx="892.8" cy="575.64" r="1.7"/><circle cx="892.8" cy="572.42" r="1.7"/><circle cx="898.7" cy="575.64" r="1.7"/><circle cx="911" cy="575.64" r="1.7"/><circle cx="911" cy="572.42" r="1.7"/><circle cx="911" cy="569.2" r="1.7"/><circle cx="916.7" cy="575.64" r="1.7"/><circle cx="921.4" cy="575.64" r="1.7"/><circle cx="921.4" cy="572.42" r="1.7"/><circle cx="948.4" cy="575.64" r="1.7"/><circle cx="948.4" cy="572.42" r="1.7"/><circle cx="948.4" cy="569.2" r="1.7"/><circle cx="974" cy="575.64" r="1.7"/><circle cx="1030.9" cy="575.64" r="1.7"/></g>
<path d="M809.1 584.39 L813.4 591.79 L804.8 591.79 Z" fill="none" stroke="#b3262f" stroke-width="1.05" stroke-linejoin="miter"/>
<g class="sans" font-size="10.17" fill="#b3262f" letter-spacing="0.737" transform="translate(815.28,590.89) scale(0.5132,1)"><text x="-0.16" y="0">80.3 POINTS</text><text x="0.16" y="0">80.3 POINTS</text></g>
<path d="M874.8 583.59 L879.3 591.09 L870.3 591.09 Z" fill="#333333"/>
<g class="sans" font-size="10.17" fill="#333333" letter-spacing="0.732" transform="translate(880.98,590.89) scale(0.5165,1)"><text x="-0.16" y="0">82.2 POINTS</text><text x="0.16" y="0">82.2 POINTS</text></g>
</g>
<g>
<g class="sans" font-size="47.38" fill="#dfdfdf" letter-spacing="5.702" transform="translate(715.61,640.17) scale(0.4917,1)"><text x="-2.45" y="0">TAIWAN</text><text x="-1.23" y="0">TAIWAN</text><text x="0" y="0">TAIWAN</text><text x="1.23" y="0">TAIWAN</text><text x="2.45" y="0">TAIWAN</text></g>
<rect x="712.7" y="641.37" width="302.7" height="3.9" fill="#d9d9d9"/>
<rect x="741.3" y="641.37" width="229.6" height="3.9" fill="#cfbf9b"/>
<rect x="830.2" y="641.37" width="77.7" height="3.9" fill="#e8944a"/>
<rect x="848" y="641.37" width="41.8" height="3.9" fill="#94340d"/>
<g fill="#6d3c23"><circle cx="712.7" cy="638.57" r="1.7"/><circle cx="724.8" cy="638.57" r="1.7"/><circle cx="745.9" cy="638.57" r="1.7"/><circle cx="769.7" cy="638.57" r="1.7"/><circle cx="778.6" cy="638.57" r="1.7"/><circle cx="787.8" cy="638.57" r="1.7"/><circle cx="787.8" cy="635.35" r="1.7"/><circle cx="798.3" cy="638.57" r="1.7"/><circle cx="798.3" cy="635.35" r="1.7"/><circle cx="798.3" cy="632.13" r="1.7"/><circle cx="798.3" cy="628.91" r="1.7"/><circle cx="798.3" cy="625.69" r="1.7"/><circle cx="807.2" cy="638.57" r="1.7"/><circle cx="807.2" cy="635.35" r="1.7"/><circle cx="813.4" cy="638.57" r="1.7"/><circle cx="813.4" cy="635.35" r="1.7"/><circle cx="813.4" cy="632.13" r="1.7"/><circle cx="821" cy="638.57" r="1.7"/><circle cx="831.5" cy="638.57" r="1.7"/><circle cx="831.5" cy="635.35" r="1.7"/><circle cx="831.5" cy="632.13" r="1.7"/><circle cx="831.5" cy="628.91" r="1.7"/><circle cx="831.5" cy="625.69" r="1.7"/><circle cx="831.5" cy="622.47" r="1.7"/><circle cx="831.5" cy="619.25" r="1.7"/><circle cx="841.8" cy="638.57" r="1.7"/><circle cx="841.8" cy="635.35" r="1.7"/><circle cx="849.3" cy="638.57" r="1.7"/><circle cx="849.3" cy="635.35" r="1.7"/><circle cx="849.3" cy="632.13" r="1.7"/><circle cx="849.3" cy="628.91" r="1.7"/><circle cx="853.4" cy="638.57" r="1.7"/><circle cx="853.4" cy="635.35" r="1.7"/><circle cx="856.6" cy="638.57" r="1.7"/><circle cx="856.6" cy="635.35" r="1.7"/><circle cx="862.8" cy="638.57" r="1.7"/><circle cx="867.4" cy="638.57" r="1.7"/><circle cx="867.4" cy="635.35" r="1.7"/><circle cx="867.4" cy="632.13" r="1.7"/><circle cx="876.3" cy="638.57" r="1.7"/><circle cx="876.3" cy="635.35" r="1.7"/><circle cx="876.3" cy="632.13" r="1.7"/><circle cx="876.3" cy="628.91" r="1.7"/><circle cx="880.9" cy="638.57" r="1.7"/><circle cx="880.9" cy="635.35" r="1.7"/><circle cx="889.8" cy="638.57" r="1.7"/><circle cx="889.8" cy="635.35" r="1.7"/><circle cx="894.4" cy="638.57" r="1.7"/><circle cx="894.4" cy="635.35" r="1.7"/><circle cx="894.4" cy="632.13" r="1.7"/><circle cx="903.3" cy="638.57" r="1.7"/><circle cx="903.3" cy="635.35" r="1.7"/><circle cx="903.3" cy="632.13" r="1.7"/><circle cx="907.9" cy="638.57" r="1.7"/><circle cx="907.9" cy="635.35" r="1.7"/><circle cx="914.2" cy="638.57" r="1.7"/><circle cx="914.2" cy="635.35" r="1.7"/><circle cx="921.4" cy="638.57" r="1.7"/><circle cx="921.4" cy="635.35" r="1.7"/><circle cx="925.5" cy="638.57" r="1.7"/><circle cx="933.6" cy="638.57" r="1.7"/><circle cx="933.6" cy="635.35" r="1.7"/><circle cx="933.6" cy="632.13" r="1.7"/><circle cx="937.6" cy="638.57" r="1.7"/><circle cx="937.6" cy="635.35" r="1.7"/><circle cx="943.9" cy="638.57" r="1.7"/><circle cx="949.8" cy="638.57" r="1.7"/><circle cx="956" cy="638.57" r="1.7"/><circle cx="966" cy="638.57" r="1.7"/><circle cx="966" cy="635.35" r="1.7"/><circle cx="970.9" cy="638.57" r="1.7"/><circle cx="974.1" cy="638.57" r="1.7"/><circle cx="1015.4" cy="638.57" r="1.7"/></g>
<path d="M713.1 647.32 L717.4 654.72 L708.8 654.72 Z" fill="none" stroke="#b3262f" stroke-width="1.05" stroke-linejoin="miter"/>
<g class="sans" font-size="10.17" fill="#b3262f" letter-spacing="0.737" transform="translate(719.28,653.82) scale(0.5132,1)"><text x="-0.16" y="0">77.7 POINTS</text><text x="0.16" y="0">77.7 POINTS</text></g>
<path d="M865.5 646.52 L870 654.02 L861 654.02 Z" fill="#333333"/>
<g class="sans" font-size="10.17" fill="#333333" letter-spacing="0.732" transform="translate(871.68,653.82) scale(0.5165,1)"><text x="-0.16" y="0">81.9 POINTS</text><text x="0.16" y="0">81.9 POINTS</text></g>
</g>
<g>
<g class="sans" font-size="43.17" fill="#dfdfdf" letter-spacing="5.607" transform="translate(412.3,703.1) scale(0.4555,1)"><text x="-2.41" y="0">HONDURAS</text><text x="-1.21" y="0">HONDURAS</text><text x="0" y="0">HONDURAS</text><text x="1.21" y="0">HONDURAS</text><text x="2.41" y="0">HONDURAS</text></g>
<rect x="408.5" y="704.3" width="628.4" height="3.9" fill="#d9d9d9"/>
<rect x="573.8" y="704.3" width="391.8" height="3.9" fill="#cfbf9b"/>
<rect x="823.8" y="704.3" width="61.9" height="3.9" fill="#e8944a"/>
<rect x="845.4" y="704.3" width="23.5" height="3.9" fill="#94340d"/>
<g fill="#6d3c23"><circle cx="408.5" cy="701.5" r="1.7"/><circle cx="559.7" cy="701.5" r="1.7"/><circle cx="652.9" cy="701.5" r="1.7"/><circle cx="724.2" cy="701.5" r="1.7"/><circle cx="760.9" cy="701.5" r="1.7"/><circle cx="767.1" cy="701.5" r="1.7"/><circle cx="804.4" cy="701.5" r="1.7"/><circle cx="804.4" cy="698.28" r="1.7"/><circle cx="813.3" cy="701.5" r="1.7"/><circle cx="813.3" cy="698.28" r="1.7"/><circle cx="817.6" cy="701.5" r="1.7"/><circle cx="823.8" cy="701.5" r="1.7"/><circle cx="823.8" cy="698.28" r="1.7"/><circle cx="833.3" cy="701.5" r="1.7"/><circle cx="833.3" cy="698.28" r="1.7"/><circle cx="838.7" cy="701.5" r="1.7"/><circle cx="844.6" cy="701.5" r="1.7"/><circle cx="844.6" cy="698.28" r="1.7"/><circle cx="849.2" cy="701.5" r="1.7"/><circle cx="849.2" cy="698.28" r="1.7"/><circle cx="853.3" cy="701.5" r="1.7"/><circle cx="853.3" cy="698.28" r="1.7"/><circle cx="856.8" cy="701.5" r="1.7"/><circle cx="856.8" cy="698.28" r="1.7"/><circle cx="862.7" cy="701.5" r="1.7"/><circle cx="867.6" cy="701.5" r="1.7"/><circle cx="867.6" cy="698.28" r="1.7"/><circle cx="867.6" cy="695.06" r="1.7"/><circle cx="867.6" cy="691.84" r="1.7"/><circle cx="867.6" cy="688.62" r="1.7"/><circle cx="875.7" cy="701.5" r="1.7"/><circle cx="875.7" cy="698.28" r="1.7"/><circle cx="880.3" cy="701.5" r="1.7"/><circle cx="885.4" cy="701.5" r="1.7"/><circle cx="885.4" cy="698.28" r="1.7"/><circle cx="885.4" cy="695.06" r="1.7"/><circle cx="895.9" cy="701.5" r="1.7"/><circle cx="911.3" cy="701.5" r="1.7"/><circle cx="911.3" cy="698.28" r="1.7"/><circle cx="911.3" cy="695.06" r="1.7"/><circle cx="922.9" cy="701.5" r="1.7"/><circle cx="929.1" cy="701.5" r="1.7"/><circle cx="941" cy="701.5" r="1.7"/><circle cx="952.6" cy="701.5" r="1.7"/><circle cx="952.6" cy="698.28" r="1.7"/><circle cx="968" cy="701.5" r="1.7"/><circle cx="1036.9" cy="701.5" r="1.7"/></g>
<path d="M408.9 710.25 L413.2 717.65 L404.6 717.65 Z" fill="none" stroke="#b3262f" stroke-width="1.05" stroke-linejoin="miter"/>
<g class="sans" font-size="10.17" fill="#b3262f" letter-spacing="0.737" transform="translate(415.08,716.75) scale(0.5132,1)"><text x="-0.16" y="0">69.2 POINTS</text><text x="0.16" y="0">69.2 POINTS</text></g>
<path d="M856.5 709.45 L861 716.95 L852 716.95 Z" fill="#333333"/>
<g class="sans" font-size="10.17" fill="#333333" letter-spacing="0.732" transform="translate(862.68,716.75) scale(0.5165,1)"><text x="-0.16" y="0">81.7 POINTS</text><text x="0.16" y="0">81.7 POINTS</text></g>
</g>
<g>
<g class="sans" font-size="60.76" fill="#dfdfdf" letter-spacing="7.739" transform="translate(380.95,766.03) scale(0.4645,1)"><text x="-3.33" y="0">MEXICO</text><text x="-1.66" y="0">MEXICO</text><text x="0" y="0">MEXICO</text><text x="1.66" y="0">MEXICO</text><text x="3.33" y="0">MEXICO</text></g>
<rect x="376.7" y="767.23" width="678.2" height="3.9" fill="#d9d9d9"/>
<rect x="577.4" y="767.23" width="381.5" height="3.9" fill="#cfbf9b"/>
<rect x="785.2" y="767.23" width="104.7" height="3.9" fill="#e8944a"/>
<rect x="827.1" y="767.23" width="51" height="3.9" fill="#94340d"/>
<g fill="#6d3c23"><circle cx="376.7" cy="764.43" r="1.7"/><circle cx="463.4" cy="764.43" r="1.7"/><circle cx="474.2" cy="764.43" r="1.7"/><circle cx="474.2" cy="761.21" r="1.7"/><circle cx="541.7" cy="764.43" r="1.7"/><circle cx="574.7" cy="764.43" r="1.7"/><circle cx="580.6" cy="764.43" r="1.7"/><circle cx="592.8" cy="764.43" r="1.7"/><circle cx="604.4" cy="764.43" r="1.7"/><circle cx="610.6" cy="764.43" r="1.7"/><circle cx="615.2" cy="764.43" r="1.7"/><circle cx="615.2" cy="761.21" r="1.7"/><circle cx="622.8" cy="764.43" r="1.7"/><circle cx="622.8" cy="761.21" r="1.7"/><circle cx="622.8" cy="757.99" r="1.7"/><circle cx="634.6" cy="764.43" r="1.7"/><circle cx="655.7" cy="764.43" r="1.7"/><circle cx="658.9" cy="764.43" r="1.7"/><circle cx="667.9" cy="764.43" r="1.7"/><circle cx="680" cy="764.43" r="1.7"/><circle cx="695" cy="764.43" r="1.7"/><circle cx="700.7" cy="764.43" r="1.7"/><circle cx="706.8" cy="764.43" r="1.7"/><circle cx="723.2" cy="764.43" r="1.7"/><circle cx="723.2" cy="761.21" r="1.7"/><circle cx="727.7" cy="764.43" r="1.7"/><circle cx="736.5" cy="764.43" r="1.7"/><circle cx="741.2" cy="764.43" r="1.7"/><circle cx="741.2" cy="761.21" r="1.7"/><circle cx="741.2" cy="757.99" r="1.7"/><circle cx="741.2" cy="754.77" r="1.7"/><circle cx="745.7" cy="764.43" r="1.7"/><circle cx="745.7" cy="761.21" r="1.7"/><circle cx="750.4" cy="764.43" r="1.7"/><circle cx="750.4" cy="761.21" r="1.7"/><circle cx="750.4" cy="757.99" r="1.7"/><circle cx="750.4" cy="754.77" r="1.7"/><circle cx="759.4" cy="764.43" r="1.7"/><circle cx="759.4" cy="761.21" r="1.7"/><circle cx="759.4" cy="757.99" r="1.7"/><circle cx="759.4" cy="754.77" r="1.7"/><circle cx="759.4" cy="751.55" r="1.7"/><circle cx="763.7" cy="764.43" r="1.7"/><circle cx="763.7" cy="761.21" r="1.7"/><circle cx="767" cy="764.43" r="1.7"/><circle cx="767" cy="761.21" r="1.7"/><circle cx="767" cy="757.99" r="1.7"/><circle cx="772.9" cy="764.43" r="1.7"/><circle cx="772.9" cy="761.21" r="1.7"/><circle cx="777.4" cy="764.43" r="1.7"/><circle cx="777.4" cy="761.21" r="1.7"/><circle cx="777.4" cy="757.99" r="1.7"/><circle cx="781.9" cy="764.43" r="1.7"/><circle cx="786.4" cy="764.43" r="1.7"/><circle cx="786.4" cy="761.21" r="1.7"/><circle cx="786.4" cy="757.99" r="1.7"/><circle cx="786.4" cy="754.77" r="1.7"/><circle cx="786.4" cy="751.55" r="1.7"/><circle cx="786.4" cy="748.33" r="1.7"/><circle cx="786.4" cy="745.11" r="1.7"/><circle cx="790.7" cy="764.43" r="1.7"/><circle cx="795.4" cy="764.43" r="1.7"/><circle cx="795.4" cy="761.21" r="1.7"/><circle cx="795.4" cy="757.99" r="1.7"/><circle cx="795.4" cy="754.77" r="1.7"/><circle cx="795.4" cy="751.55" r="1.7"/><circle cx="795.4" cy="748.33" r="1.7"/><circle cx="795.4" cy="745.11" r="1.7"/><circle cx="795.4" cy="741.89" r="1.7"/><circle cx="799.9" cy="764.43" r="1.7"/><circle cx="799.9" cy="761.21" r="1.7"/><circle cx="799.9" cy="757.99" r="1.7"/><circle cx="804.4" cy="764.43" r="1.7"/><circle cx="804.4" cy="761.21" r="1.7"/><circle cx="804.4" cy="757.99" r="1.7"/><circle cx="804.4" cy="754.77" r="1.7"/><circle cx="813.4" cy="764.43" r="1.7"/><circle cx="813.4" cy="761.21" r="1.7"/><circle cx="822.4" cy="764.43" r="1.7"/><circle cx="822.4" cy="761.21" r="1.7"/><circle cx="822.4" cy="757.99" r="1.7"/><circle cx="826.9" cy="764.43" r="1.7"/><circle cx="826.9" cy="761.21" r="1.7"/><circle cx="826.9" cy="757.99" r="1.7"/><circle cx="831.4" cy="764.43" r="1.7"/><circle cx="831.4" cy="761.21" r="1.7"/><circle cx="831.4" cy="757.99" r="1.7"/><circle cx="831.4" cy="754.77" r="1.7"/><circle cx="836.7" cy="764.43" r="1.7"/><circle cx="836.7" cy="761.21" r="1.7"/><circle cx="836.7" cy="757.99" r="1.7"/><circle cx="836.7" cy="754.77" r="1.7"/><circle cx="840.4" cy="764.43" r="1.7"/><circle cx="840.4" cy="761.21" r="1.7"/><circle cx="840.4" cy="757.99" r="1.7"/><circle cx="844.9" cy="764.43" r="1.7"/><circle cx="844.9" cy="761.21" r="1.7"/><circle cx="849.4" cy="764.43" r="1.7"/><circle cx="849.4" cy="761.21" r="1.7"/><circle cx="849.4" cy="757.99" r="1.7"/><circle cx="849.4" cy="754.77" r="1.7"/><circle cx="849.4" cy="751.55" r="1.7"/><circle cx="849.4" cy="748.33" r="1.7"/><circle cx="849.4" cy="745.11" r="1.7"/><circle cx="849.4" cy="741.89" r="1.7"/><circle cx="849.4" cy="738.67" r="1.7"/><circle cx="849.4" cy="735.45" r="1.7"/><circle cx="852.7" cy="764.43" r="1.7"/><circle cx="852.7" cy="761.21" r="1.7"/><circle cx="852.7" cy="757.99" r="1.7"/><circle cx="858.4" cy="764.43" r="1.7"/><circle cx="858.4" cy="761.21" r="1.7"/><circle cx="858.4" cy="757.99" r="1.7"/><circle cx="858.4" cy="754.77" r="1.7"/><circle cx="858.4" cy="751.55" r="1.7"/><circle cx="858.4" cy="748.33" r="1.7"/><circle cx="858.4" cy="745.11" r="1.7"/><circle cx="858.4" cy="741.89" r="1.7"/><circle cx="858.4" cy="738.67" r="1.7"/><circle cx="858.4" cy="735.45" r="1.7"/><circle cx="862.9" cy="764.43" r="1.7"/><circle cx="862.9" cy="761.21" r="1.7"/><circle cx="862.9" cy="757.99" r="1.7"/><circle cx="862.9" cy="754.77" r="1.7"/><circle cx="866.2" cy="764.43" r="1.7"/><circle cx="866.2" cy="761.21" r="1.7"/><circle cx="866.2" cy="757.99" r="1.7"/><circle cx="866.2" cy="754.77" r="1.7"/><circle cx="870.5" cy="764.43" r="1.7"/><circle cx="870.5" cy="761.21" r="1.7"/><circle cx="870.5" cy="757.99" r="1.7"/><circle cx="876.4" cy="764.43" r="1.7"/><circle cx="876.4" cy="761.21" r="1.7"/><circle cx="876.4" cy="757.99" r="1.7"/><circle cx="876.4" cy="754.77" r="1.7"/><circle cx="876.4" cy="751.55" r="1.7"/><circle cx="876.4" cy="748.33" r="1.7"/><circle cx="876.4" cy="745.11" r="1.7"/><circle cx="876.4" cy="741.89" r="1.7"/><circle cx="876.4" cy="738.67" r="1.7"/><circle cx="876.4" cy="735.45" r="1.7"/><circle cx="876.4" cy="732.23" r="1.7"/><circle cx="880.9" cy="764.43" r="1.7"/><circle cx="880.9" cy="761.21" r="1.7"/><circle cx="880.9" cy="757.99" r="1.7"/><circle cx="880.9" cy="754.77" r="1.7"/><circle cx="880.9" cy="751.55" r="1.7"/><circle cx="885.4" cy="764.43" r="1.7"/><circle cx="885.4" cy="761.21" r="1.7"/><circle cx="885.4" cy="757.99" r="1.7"/><circle cx="885.4" cy="754.77" r="1.7"/><circle cx="885.4" cy="751.55" r="1.7"/><circle cx="885.4" cy="748.33" r="1.7"/><circle cx="885.4" cy="745.11" r="1.7"/><circle cx="885.4" cy="741.89" r="1.7"/><circle cx="885.4" cy="738.67" r="1.7"/><circle cx="885.4" cy="735.45" r="1.7"/><circle cx="885.4" cy="732.23" r="1.7"/><circle cx="885.4" cy="729.01" r="1.7"/><circle cx="885.4" cy="725.79" r="1.7"/><circle cx="885.4" cy="722.57" r="1.7"/><circle cx="889.9" cy="764.43" r="1.7"/><circle cx="889.9" cy="761.21" r="1.7"/><circle cx="889.9" cy="757.99" r="1.7"/><circle cx="889.9" cy="754.77" r="1.7"/><circle cx="894.4" cy="764.43" r="1.7"/><circle cx="894.4" cy="761.21" r="1.7"/><circle cx="894.4" cy="757.99" r="1.7"/><circle cx="894.4" cy="754.77" r="1.7"/><circle cx="894.4" cy="751.55" r="1.7"/><circle cx="894.4" cy="748.33" r="1.7"/><circle cx="894.4" cy="745.11" r="1.7"/><circle cx="894.4" cy="741.89" r="1.7"/><circle cx="894.4" cy="738.67" r="1.7"/><circle cx="898.9" cy="764.43" r="1.7"/><circle cx="903.4" cy="764.43" r="1.7"/><circle cx="903.4" cy="761.21" r="1.7"/><circle cx="903.4" cy="757.99" r="1.7"/><circle cx="903.4" cy="754.77" r="1.7"/><circle cx="903.4" cy="751.55" r="1.7"/><circle cx="903.4" cy="748.33" r="1.7"/><circle cx="903.4" cy="745.11" r="1.7"/><circle cx="903.4" cy="741.89" r="1.7"/><circle cx="907.9" cy="764.43" r="1.7"/><circle cx="912.4" cy="764.43" r="1.7"/><circle cx="912.4" cy="761.21" r="1.7"/><circle cx="912.4" cy="757.99" r="1.7"/><circle cx="912.4" cy="754.77" r="1.7"/><circle cx="912.4" cy="751.55" r="1.7"/><circle cx="912.4" cy="748.33" r="1.7"/><circle cx="912.4" cy="745.11" r="1.7"/><circle cx="917.5" cy="764.43" r="1.7"/><circle cx="917.5" cy="761.21" r="1.7"/><circle cx="924.4" cy="764.43" r="1.7"/><circle cx="924.4" cy="761.21" r="1.7"/><circle cx="924.4" cy="757.99" r="1.7"/><circle cx="924.4" cy="754.77" r="1.7"/><circle cx="930.3" cy="764.43" r="1.7"/><circle cx="930.3" cy="761.21" r="1.7"/><circle cx="934.8" cy="764.43" r="1.7"/><circle cx="934.8" cy="761.21" r="1.7"/><circle cx="937.9" cy="764.43" r="1.7"/><circle cx="937.9" cy="761.21" r="1.7"/><circle cx="937.9" cy="757.99" r="1.7"/><circle cx="937.9" cy="754.77" r="1.7"/><circle cx="943.8" cy="764.43" r="1.7"/><circle cx="951.4" cy="764.43" r="1.7"/><circle cx="951.4" cy="761.21" r="1.7"/><circle cx="951.4" cy="757.99" r="1.7"/><circle cx="951.4" cy="754.77" r="1.7"/><circle cx="957.5" cy="764.43" r="1.7"/><circle cx="957.5" cy="761.21" r="1.7"/><circle cx="957.5" cy="757.99" r="1.7"/><circle cx="965.1" cy="764.43" r="1.7"/><circle cx="975.5" cy="764.43" r="1.7"/><circle cx="975.5" cy="761.21" r="1.7"/><circle cx="975.5" cy="757.99" r="1.7"/><circle cx="1054.9" cy="764.43" r="1.7"/></g>
<path d="M377.1 773.18 L381.4 780.58 L372.8 780.58 Z" fill="none" stroke="#b3262f" stroke-width="1.05" stroke-linejoin="miter"/>
<g class="sans" font-size="10.17" fill="#b3262f" letter-spacing="0.737" transform="translate(383.28,779.68) scale(0.5132,1)"><text x="-0.16" y="0">68.3 POINTS</text><text x="0.16" y="0">68.3 POINTS</text></g>
<path d="M853.5 772.38 L858 779.88 L849 779.88 Z" fill="#333333"/>
<g class="sans" font-size="10.17" fill="#333333" letter-spacing="0.732" transform="translate(859.68,779.68) scale(0.5165,1)"><text x="-0.16" y="0">81.6 POINTS</text><text x="0.16" y="0">81.6 POINTS</text></g>
</g>
<g>
<g class="sans" font-size="36.48" fill="#dfdfdf" letter-spacing="4.838" transform="translate(190.63,828.96) scale(0.4462,1)"><text x="-2.08" y="0">NICARAGUA</text><text x="-1.04" y="0">NICARAGUA</text><text x="0" y="0">NICARAGUA</text><text x="1.04" y="0">NICARAGUA</text><text x="2.08" y="0">NICARAGUA</text></g>
<rect x="187.6" y="830.16" width="846.4" height="3.9" fill="#d9d9d9"/>
<rect x="519.4" y="830.16" width="473.4" height="3.9" fill="#cfbf9b"/>
<rect x="792" y="830.16" width="71.8" height="3.9" fill="#e8944a"/>
<rect x="804.3" y="830.16" width="36.6" height="3.9" fill="#94340d"/>
<g fill="#6d3c23"><circle cx="187.6" cy="827.36" r="1.7"/><circle cx="718.6" cy="827.36" r="1.7"/><circle cx="745.8" cy="827.36" r="1.7"/><circle cx="745.8" cy="824.14" r="1.7"/><circle cx="754.4" cy="827.36" r="1.7"/><circle cx="778.8" cy="827.36" r="1.7"/><circle cx="790.8" cy="827.36" r="1.7"/><circle cx="798.3" cy="827.36" r="1.7"/><circle cx="798.3" cy="824.14" r="1.7"/><circle cx="804.3" cy="827.36" r="1.7"/><circle cx="804.3" cy="824.14" r="1.7"/><circle cx="817.7" cy="827.36" r="1.7"/><circle cx="823.7" cy="827.36" r="1.7"/><circle cx="829.8" cy="827.36" r="1.7"/><circle cx="835.8" cy="827.36" r="1.7"/><circle cx="840.1" cy="827.36" r="1.7"/><circle cx="840.1" cy="824.14" r="1.7"/><circle cx="851" cy="827.36" r="1.7"/><circle cx="857" cy="827.36" r="1.7"/><circle cx="865.9" cy="827.36" r="1.7"/><circle cx="874.7" cy="827.36" r="1.7"/><circle cx="904.8" cy="827.36" r="1.7"/><circle cx="929.2" cy="827.36" r="1.7"/><circle cx="946.9" cy="827.36" r="1.7"/><circle cx="967.8" cy="827.36" r="1.7"/><circle cx="1034" cy="827.36" r="1.7"/></g>
<path d="M188 836.11 L192.3 843.51 L183.7 843.51 Z" fill="none" stroke="#b3262f" stroke-width="1.05" stroke-linejoin="miter"/>
<g class="sans" font-size="10.17" fill="#b3262f" letter-spacing="0.737" transform="translate(194.18,842.61) scale(0.5132,1)"><text x="-0.16" y="0">63.1 POINTS</text><text x="0.16" y="0">63.1 POINTS</text></g>
<path d="M826.6 835.31 L831.1 842.81 L822.1 842.81 Z" fill="#333333"/>
<g class="sans" font-size="10.17" fill="#333333" letter-spacing="0.732" transform="translate(832.78,842.61) scale(0.5165,1)"><text x="-0.16" y="0">80.8 POINTS</text><text x="0.16" y="0">80.8 POINTS</text></g>
</g>
<text class="serif" x="1051.8" y="91.7" font-size="10.6" fill="#b39670" textLength="80" lengthAdjust="spacingAndGlyphs">The best coffee–in</text>
<text class="serif" x="1035.8" y="103" font-size="10.6" fill="#b39670" textLength="112.4" lengthAdjust="spacingAndGlyphs">terms of both median and</text>
<text class="serif" x="1030.5" y="114.3" font-size="10.6" fill="#b39670" textLength="123" lengthAdjust="spacingAndGlyphs">maximum rating–is shipped</text>
<text class="serif" x="1046.5" y="125.5" font-size="10.6" fill="#b39670" textLength="91.3" lengthAdjust="spacingAndGlyphs">to you from Ethiopia!</text>
<text class="serif" x="27.5" y="481.1" font-size="10.6" fill="#b39670" textLength="133.5" lengthAdjust="spacingAndGlyphs">The coffee bean with the lowest</text>
<text class="serif" x="21.2" y="491.9" font-size="10.6" fill="#b39670" textLength="146.5" lengthAdjust="spacingAndGlyphs">rating has its origin in Guatemala.</text>
<text class="serif" x="971.8" y="733.2" font-size="10.6" fill="#b39670" textLength="96.6" lengthAdjust="spacingAndGlyphs">With 218 tested beans,</text>
<text class="serif" x="963.6" y="744.6" font-size="10.6" fill="#b39670" textLength="112.6" lengthAdjust="spacingAndGlyphs">Mexico is the country with</text>
<text class="serif" x="983.1" y="755.9" font-size="10.6" fill="#b39670" textLength="73.6" lengthAdjust="spacingAndGlyphs">the most reviews.</text>
<text class="serif" x="81.7" y="795.6" font-size="10.6" fill="#b39670" textLength="111.3" lengthAdjust="spacingAndGlyphs">One bean from Nicaragua</text>
<text class="serif" x="93.7" y="806.8" font-size="10.6" fill="#b39670" textLength="87.5" lengthAdjust="spacingAndGlyphs">got a bad rating, too.</text>
<text class="serif" x="60.9" y="62" font-size="34.5" font-weight="bold" fill="#0a0a0a" stroke="#0a0a0a" stroke-width="0.7" textLength="330.5" lengthAdjust="spacingAndGlyphs">Not my cup of coffee...</text>
<text class="serif" x="60.4" y="96.6" font-size="14.3" fill="#222222" stroke="#222222" stroke-width="0.32" textLength="347.6" lengthAdjust="spacingAndGlyphs">Each dot depicts one coffee bean rated by Coffee Quality Institute's</text>
<text class="serif" x="60.4" y="114" font-size="14.3" fill="#222222" stroke="#222222" stroke-width="0.32" textLength="335.6" lengthAdjust="spacingAndGlyphs">trained reviewers. In addition, the multiple interval stripes show</text>
<text class="serif" x="60.4" y="131.4" font-size="14.3" fill="#222222" stroke="#222222" stroke-width="0.32" textLength="31.9" lengthAdjust="spacingAndGlyphs">where</text>
<text class="serif" x="95.9" y="131.4" font-size="14.3" fill="#222222" stroke="#222222" stroke-width="0.32" textLength="19.2" lengthAdjust="spacingAndGlyphs" font-weight="bold" style="fill:#8a3a16;stroke:#8a3a16">25%</text>
<text class="serif" x="115.6" y="131.4" font-size="14.3" fill="#222222" stroke="#222222" stroke-width="0.32" textLength="2.6" lengthAdjust="spacingAndGlyphs">,</text>
<text class="serif" x="121.6" y="131.4" font-size="14.3" fill="#222222" stroke="#222222" stroke-width="0.32" textLength="21" lengthAdjust="spacingAndGlyphs" font-weight="bold" style="fill:#d98633;stroke:#d98633">50%</text>
<text class="serif" x="143.2" y="131.4" font-size="14.3" fill="#222222" stroke="#222222" stroke-width="0.32" textLength="2.6" lengthAdjust="spacingAndGlyphs">,</text>
<text class="serif" x="151.6" y="131.4" font-size="14.3" fill="#222222" stroke="#222222" stroke-width="0.32" textLength="19.6" lengthAdjust="spacingAndGlyphs" font-weight="bold" style="fill:#b7a372;stroke:#b7a372">95%</text>
<text class="serif" x="171.8" y="131.4" font-size="14.3" fill="#222222" stroke="#222222" stroke-width="0.32" textLength="24.8" lengthAdjust="spacingAndGlyphs">, and</text>
<text class="serif" x="200.2" y="131.4" font-size="14.3" fill="#222222" stroke="#222222" stroke-width="0.32" textLength="27" lengthAdjust="spacingAndGlyphs" style="fill:#b9b9b9;stroke:#b9b9b9">100%</text>
<text class="serif" x="230.6" y="131.4" font-size="14.3" fill="#222222" stroke="#222222" stroke-width="0.32" textLength="167.4" lengthAdjust="spacingAndGlyphs">of the beans fall along the rating</text>
<text class="serif" x="60.4" y="148.7" font-size="14.3" fill="#222222" stroke="#222222" stroke-width="0.32" textLength="337.1" lengthAdjust="spacingAndGlyphs">gradient from 0 to 100 points. The rated coffee beans range from</text>
<text class="serif" x="60.4" y="166.1" font-size="14.3" fill="#222222" stroke="#222222" stroke-width="0.32" textLength="340.6" lengthAdjust="spacingAndGlyphs">59.8 points (Guatemala) to 89.9 (Ethiopia). Only countries of origin</text>
<text class="serif" x="60.4" y="183.5" font-size="14.3" fill="#222222" stroke="#222222" stroke-width="0.32" textLength="331.6" lengthAdjust="spacingAndGlyphs">with 25 or more tested beans are shown. The red empty triangle</text>
<text class="serif" x="60.4" y="200.8" font-size="14.3" fill="#222222" stroke="#222222" stroke-width="0.32" textLength="343.6" lengthAdjust="spacingAndGlyphs">marks the minimum rating, the black filled triangle indicates each</text>
<text class="serif" x="60.4" y="218.2" font-size="14.3" fill="#222222" stroke="#222222" stroke-width="0.32" textLength="123.6" lengthAdjust="spacingAndGlyphs">country's median score.</text>
<text class="serif" x="60.3" y="252.3" font-size="13.2" font-style="italic" fill="#a88b62" stroke="#a88b62" stroke-width="0.15" textLength="155.7" lengthAdjust="spacingAndGlyphs">Visualization by Cédric Scherer</text>
</g>
</svg>
</body></html>
